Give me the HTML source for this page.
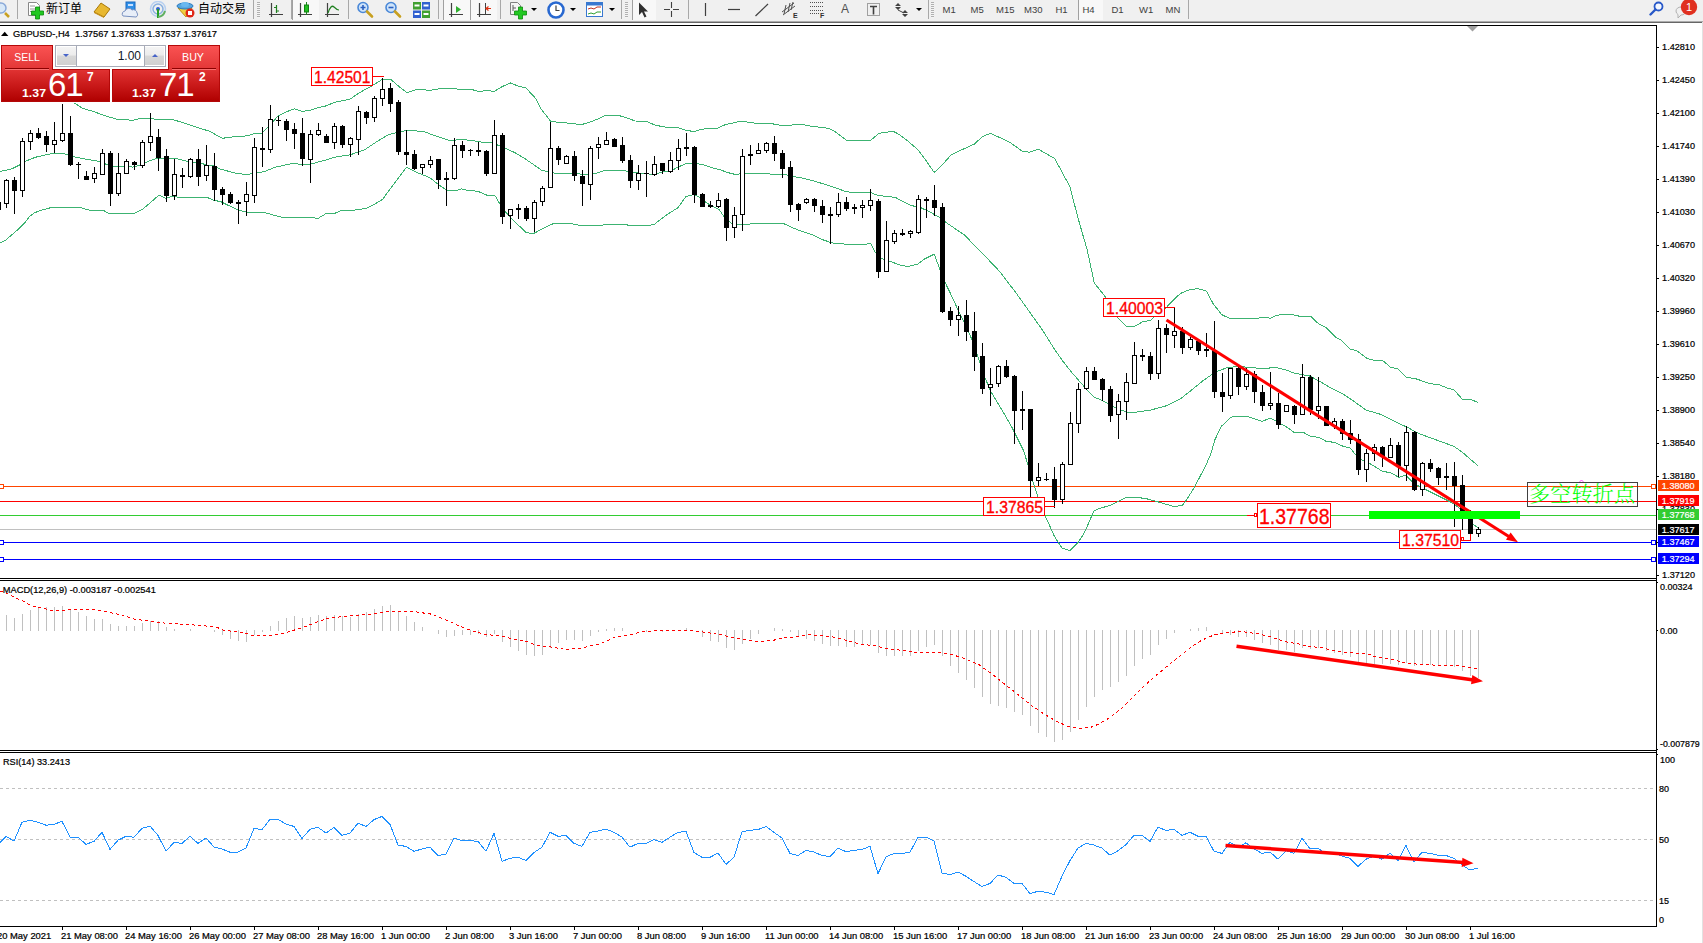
<!DOCTYPE html>
<html><head><meta charset="utf-8"><title>GBPUSD H4</title>
<style>
html,body{margin:0;padding:0;background:#fff}
body{width:1703px;height:943px;position:relative;overflow:hidden;font-family:"Liberation Sans","Noto Sans CJK SC",sans-serif;}
#tb{position:absolute;left:0;top:0;width:1703px;height:21px;background:#f0f0f0}
#tbl1{position:absolute;left:0;top:21px;width:1703px;height:1px;background:#acacac}
#tbl2{position:absolute;left:0;top:22px;width:1702px;height:1px;background:#666}
#edge{position:absolute;left:1702px;top:22px;width:1px;height:921px;background:#e2e2e2}
svg text{font-family:"Liberation Sans","Noto Sans CJK SC",sans-serif;}
svg text.k{stroke:#000;stroke-width:0.22px}
.rb{position:absolute;box-sizing:border-box;border:1px solid #b40808}
.wt{position:absolute;color:#fff;line-height:14px;white-space:nowrap}
</style></head><body>
<div id="tb"><svg style="position:absolute;left:0px;top:0px" width="12" height="20" viewBox="0 0 12 20"><circle cx="1" cy="8" r="5" fill="#d8e8f8" stroke="#88a8d8" stroke-width="1.5"/><line x1="5" y1="13" x2="9" y2="17" stroke="#c8a020" stroke-width="2.5"/></svg>
<div style="position:absolute;left:17px;top:0px;width:1px;height:19px;background:#a8a8a8"></div>
<svg style="position:absolute;left:27px;top:1px" width="17" height="19" viewBox="0 0 17 19"><path d="M1.5 1.5h8l3 3v10h-11z" fill="#fff" stroke="#888"/><path d="M3 5h5M3 8h6M3 10.5h4" stroke="#999" stroke-width="1"/><path d="M9 7h4v4h4v4h-4v4h-4v-4h-4v-4h4z" transform="translate(-0.5,-1)" fill="#22c822" stroke="#0a8a0a" stroke-width="0.8"/></svg>
<div style="position:absolute;left:46px;top:1px;font-size:12px;line-height:16px;color:#000">新订单</div>
<svg style="position:absolute;left:93px;top:2px" width="18" height="16" viewBox="0 0 18 16"><path d="M1 10 L8 1 L17 7 L11 15 Z" fill="#e8b830" stroke="#a87808"/><path d="M1 10 L11 15 L11 16 L1 11z" fill="#c89018"/></svg>
<svg style="position:absolute;left:121px;top:1px" width="18" height="17" viewBox="0 0 18 17"><rect x="5" y="1" width="9" height="10" fill="#3090e8" stroke="#1868c0"/><rect x="7" y="3" width="5" height="2" fill="#c8e0ff"/><path d="M2 15a3 3 0 0 1 2-5a4 4 0 0 1 7-1a3.5 3.5 0 0 1 5 3a2.5 2.5 0 0 1-1 4z" fill="#e8eef8" stroke="#7890c0"/></svg>
<svg style="position:absolute;left:149px;top:1px" width="18" height="17" viewBox="0 0 18 17"><circle cx="9" cy="8" r="7.5" fill="none" stroke="#b8d0f0" stroke-width="1.5"/><circle cx="9" cy="8" r="5" fill="none" stroke="#88b0e0" stroke-width="1.5"/><circle cx="9" cy="8" r="2" fill="#3060d0"/><path d="M9 8v9" stroke="#28a028" stroke-width="2"/><path d="M9 16a8 8 0 0 0 7-6" stroke="#60b060" stroke-width="2" fill="none"/></svg>
<svg style="position:absolute;left:176px;top:1px" width="19" height="17" viewBox="0 0 19 17"><path d="M2 7 L16 7 L10 16 Z" fill="#f0d040" stroke="#c09010"/><ellipse cx="9" cy="5" rx="8" ry="3" fill="#58a8e0" stroke="#2878c0"/><ellipse cx="9" cy="3.5" rx="4" ry="2.5" fill="#68b8f0"/><circle cx="14" cy="12" r="4.5" fill="#e02818"/><rect x="12" y="10" width="4" height="4" fill="#fff"/></svg>
<div style="position:absolute;left:198px;top:1px;font-size:12px;line-height:16px;color:#000">自动交易</div>
<div style="position:absolute;left:253px;top:0px;width:1px;height:19px;background:#a8a8a8"></div>
<div style="position:absolute;left:257px;top:2px;width:3px;height:16px;background:repeating-linear-gradient(#b0b0b0 0 1px,#f4f4f4 1px 2px)"></div>
<svg style="position:absolute;left:268px;top:2px" width="17" height="17" viewBox="0 0 17 17"><path d="M3.5 1v14M1 12.5h14" stroke="#404040" stroke-width="1.2" fill="none"/><path d="M8.5 3v8M6 5.5h2.5M8.5 9h2.5" stroke="#208020" stroke-width="1.2"/></svg>
<div style="position:absolute;left:291px;top:0px;width:1px;height:19px;background:#a8a8a8"></div>
<div style="position:absolute;left:292px;top:0;width:27px;height:20px;background:#f8f8f8;border-left:1px solid #a0a0a0;box-sizing:border-box"></div>
<svg style="position:absolute;left:297px;top:2px" width="17" height="17" viewBox="0 0 17 17"><path d="M3.5 1v14M1 12.5h14" stroke="#404040" stroke-width="1.2" fill="none"/><path d="M9.5 0v13" stroke="#208020"/><rect x="7.5" y="3" width="4" height="7" fill="#20c020" stroke="#108010"/></svg>
<svg style="position:absolute;left:324px;top:2px" width="17" height="17" viewBox="0 0 17 17"><path d="M3.5 1v14M1 12.5h14" stroke="#404040" stroke-width="1.2" fill="none"/><path d="M4 11 Q7 2 10 5 T15 8" stroke="#208020" stroke-width="1.2" fill="none"/></svg>
<div style="position:absolute;left:348px;top:0px;width:1px;height:19px;background:#a8a8a8"></div>
<svg style="position:absolute;left:356px;top:1px" width="18" height="18" viewBox="0 0 18 18"><circle cx="7" cy="6.5" r="5" fill="#cfe4fa" stroke="#4a88d8" stroke-width="1.6"/><path d="M4.5 6.5h5M7 4v5" stroke="#2a60c0" stroke-width="1.6"/><line x1="11" y1="10.5" x2="16" y2="15.5" stroke="#c8a020" stroke-width="2.6" stroke-linecap="round"/></svg>
<svg style="position:absolute;left:384px;top:1px" width="18" height="18" viewBox="0 0 18 18"><circle cx="7" cy="6.5" r="5" fill="#cfe4fa" stroke="#4a88d8" stroke-width="1.6"/><path d="M4.5 6.5h5" stroke="#2a60c0" stroke-width="1.6"/><line x1="11" y1="10.5" x2="16" y2="15.5" stroke="#c8a020" stroke-width="2.6" stroke-linecap="round"/></svg>
<svg style="position:absolute;left:413px;top:2px" width="17" height="16" viewBox="0 0 17 16"><rect x="0" y="0" width="8" height="7.5" fill="#40a030"/><rect x="9" y="0" width="8" height="7.5" fill="#3060d0"/><rect x="0" y="8.5" width="8" height="7.5" fill="#3060d0"/><rect x="9" y="8.5" width="8" height="7.5" fill="#40a030"/><path d="M1.5 3.5h5M10.5 3.5h5M1.5 12h5M10.5 12h5" stroke="#fff" stroke-width="2"/></svg>
<div style="position:absolute;left:438px;top:0px;width:1px;height:19px;background:#a8a8a8"></div>
<div style="position:absolute;left:443px;top:0;width:27px;height:20px;background:#f8f8f8;border-left:1px solid #a0a0a0;box-sizing:border-box"></div>
<svg style="position:absolute;left:448px;top:2px" width="17" height="17" viewBox="0 0 17 17"><path d="M3.5 1v14M1 12.5h14" stroke="#404040" stroke-width="1.2" fill="none"/><path d="M8 4l5 3.5l-5 3.5z" fill="#30b030"/></svg>
<div style="position:absolute;left:470px;top:0;width:27px;height:20px;background:#f8f8f8;border-left:1px solid #a0a0a0;box-sizing:border-box"></div>
<svg style="position:absolute;left:476px;top:2px" width="17" height="17" viewBox="0 0 17 17"><path d="M3.5 1v14M1 12.5h14" stroke="#404040" stroke-width="1.2" fill="none"/><path d="M9.5 1v11" stroke="#404040"/><path d="M15 6.5h-5M12.5 4.5l-2.5 2l2.5 2" stroke="#e03010" stroke-width="1.2" fill="none"/></svg>
<div style="position:absolute;left:500px;top:0px;width:1px;height:19px;background:#a8a8a8"></div>
<svg style="position:absolute;left:509px;top:1px" width="19" height="19" viewBox="0 0 19 19"><path d="M1.5 1.5h7l3 3v9h-10z" fill="#f4f4f4" stroke="#808080"/><path d="M4 4v6M4 7h3" stroke="#606060"/><path d="M9 7h4v4h4v4h-4v4h-4v-4h-4v-4h4z" transform="translate(0.5,-1)" fill="#22c822" stroke="#0a8a0a" stroke-width="0.8"/></svg>
<div style="position:absolute;left:531px;top:8px;width:0;height:0;border-left:3px solid transparent;border-right:3px solid transparent;border-top:3px solid #000"></div>
<svg style="position:absolute;left:547px;top:1px" width="18" height="18" viewBox="0 0 18 18"><circle cx="9" cy="9" r="7.5" fill="#fff" stroke="#2868d0" stroke-width="2.6"/><path d="M9 4.5v5h3.5" stroke="#404040" stroke-width="1.2" fill="none"/></svg>
<div style="position:absolute;left:570px;top:8px;width:0;height:0;border-left:3px solid transparent;border-right:3px solid transparent;border-top:3px solid #000"></div>
<svg style="position:absolute;left:586px;top:2px" width="18" height="15" viewBox="0 0 18 15"><rect x="0.5" y="0.5" width="16" height="14" fill="#fff" stroke="#3878d0"/><rect x="0.5" y="0.5" width="16" height="3" fill="#3878d0"/><path d="M2 7l3-1l3 1l3-2l4 0" stroke="#c03020" fill="none"/><path d="M2 12l3-1l3 1l3-2l4 0" stroke="#30a030" fill="none"/></svg>
<div style="position:absolute;left:609px;top:8px;width:0;height:0;border-left:3px solid transparent;border-right:3px solid transparent;border-top:3px solid #000"></div>
<div style="position:absolute;left:621px;top:0px;width:1px;height:19px;background:#a8a8a8"></div>
<div style="position:absolute;left:625px;top:2px;width:3px;height:16px;background:repeating-linear-gradient(#b0b0b0 0 1px,#f4f4f4 1px 2px)"></div>
<div style="position:absolute;left:632px;top:0;width:24px;height:20px;background:#f8f8f8;border-left:1px solid #a0a0a0;box-sizing:border-box"></div>
<svg style="position:absolute;left:638px;top:2px" width="12" height="16" viewBox="0 0 12 16"><path d="M1 0.5L1 13L4 10L6.5 15.5L8.5 14.5L6 9.5L10 9.5Z" fill="#303030"/></svg>
<svg style="position:absolute;left:663px;top:1px" width="17" height="17" viewBox="0 0 17 17"><path d="M8.5 1v6M8.5 10v6M1 8.5h6M10 8.5h6" stroke="#404040" stroke-width="1.1"/></svg>
<div style="position:absolute;left:688px;top:0px;width:1px;height:19px;background:#a8a8a8"></div>
<svg style="position:absolute;left:700px;top:1px" width="12" height="17" viewBox="0 0 12 17"><path d="M5.5 2v13" stroke="#404040" stroke-width="1.2"/></svg>
<svg style="position:absolute;left:727px;top:1px" width="15" height="17" viewBox="0 0 15 17"><path d="M1 8.5h12" stroke="#404040" stroke-width="1.2"/></svg>
<svg style="position:absolute;left:754px;top:1px" width="16" height="17" viewBox="0 0 16 17"><path d="M1.5 15L14 3" stroke="#404040" stroke-width="1.2"/></svg>
<svg style="position:absolute;left:781px;top:0px" width="18" height="19" viewBox="0 0 18 19"><path d="M1 12L13 3M2 15L14 6M5 5l-2 9M9 3l-2 9M12 2l-2 8" stroke="#505050" stroke-width="1"/><text x="12" y="18" font-size="7" font-weight="bold" fill="#303030">E</text></svg>
<svg style="position:absolute;left:810px;top:0px" width="18" height="19" viewBox="0 0 18 19"><path d="M0 2.5h13M0 6.5h13M0 10.5h13M0 13.5h9" stroke="#505050" stroke-width="1" stroke-dasharray="1,1"/><text x="10" y="18" font-size="7" font-weight="bold" fill="#303030">F</text></svg>
<div style="position:absolute;left:841px;top:3px;font-size:12px;line-height:13px;color:#505050">A</div>
<svg style="position:absolute;left:866px;top:2px" width="16" height="16" viewBox="0 0 16 16"><rect x="1.5" y="1.5" width="12" height="12" fill="none" stroke="#505050" stroke-dasharray="1,1"/><path d="M4 4.5h7M7.5 4.5v8" stroke="#404040" stroke-width="1.6"/></svg>
<svg style="position:absolute;left:894px;top:2px" width="16" height="16" viewBox="0 0 16 16"><path d="M4 1l3 3h-6zM4 8l-3-3h6z" fill="#404040"/><path d="M11 8l3 3h-6zM11 15l-3-3h6z" fill="#404040"/><path d="M4 8l6 3" stroke="#404040"/></svg>
<div style="position:absolute;left:916px;top:8px;width:0;height:0;border-left:3px solid transparent;border-right:3px solid transparent;border-top:3px solid #000"></div>
<div style="position:absolute;left:928px;top:0px;width:1px;height:19px;background:#a8a8a8"></div>
<div style="position:absolute;left:931px;top:2px;width:3px;height:16px;background:repeating-linear-gradient(#b0b0b0 0 1px,#f4f4f4 1px 2px)"></div>
<div style="position:absolute;left:1078px;top:0;width:25px;height:20px;background:#f8f8f8;border-left:1px solid #a0a0a0;box-sizing:border-box"></div>
<div style="position:absolute;left:942.5px;top:4px;font-size:9.5px;line-height:11px;color:#404040">M1</div>
<div style="position:absolute;left:970.5px;top:4px;font-size:9.5px;line-height:11px;color:#404040">M5</div>
<div style="position:absolute;left:996px;top:4px;font-size:9.5px;line-height:11px;color:#404040">M15</div>
<div style="position:absolute;left:1024px;top:4px;font-size:9.5px;line-height:11px;color:#404040">M30</div>
<div style="position:absolute;left:1055.5px;top:4px;font-size:9.5px;line-height:11px;color:#404040">H1</div>
<div style="position:absolute;left:1082.5px;top:4px;font-size:9.5px;line-height:11px;color:#404040">H4</div>
<div style="position:absolute;left:1111.5px;top:4px;font-size:9.5px;line-height:11px;color:#404040">D1</div>
<div style="position:absolute;left:1139px;top:4px;font-size:9.5px;line-height:11px;color:#404040">W1</div>
<div style="position:absolute;left:1165.5px;top:4px;font-size:9.5px;line-height:11px;color:#404040">MN</div>
<div style="position:absolute;left:1188px;top:0px;width:1px;height:19px;background:#a8a8a8"></div>
<svg style="position:absolute;left:1649px;top:1px" width="16" height="16" viewBox="0 0 16 16"><circle cx="9.5" cy="5.5" r="4" fill="#f4f8ff" stroke="#2858c8" stroke-width="1.8"/><line x1="6.5" y1="8.5" x2="1.5" y2="13.5" stroke="#2858c8" stroke-width="2.4" stroke-linecap="round"/></svg>
<svg style="position:absolute;left:1674px;top:0px" width="26" height="20" viewBox="0 0 26 20"><path d="M2 11a5 4 0 0 1 10 0a5 4 0 0 1-5 4l-3 3v-3.5a4 4 0 0 1-2-3.5z" fill="#f0f0f0" stroke="#b0b0b0"/><circle cx="15" cy="7" r="8.2" fill="#e03020"/><text x="15" y="11" font-size="11" fill="#fff" text-anchor="middle">1</text></svg></div><div id="tbl1"></div><div id="tbl2"></div><div id="edge"></div>
<svg style="position:absolute;left:0;top:0" width="1703" height="943" viewBox="0 0 1703 943">
<defs><clipPath id="mainclip"><rect x="0" y="26" width="1656" height="552"/></clipPath></defs>
<g shape-rendering="crispEdges">
<rect x="0" y="486" width="1656" height="1" fill="#ff4500" />
<rect x="0" y="501" width="1656" height="1" fill="#ff0000" />
<rect x="0" y="515" width="1656" height="1" fill="#32cd32" />
<rect x="0" y="529" width="1656" height="1" fill="#c0c0c0" />
<rect x="0" y="542" width="1656" height="1" fill="#0000ff" />
<rect x="0" y="559" width="1656" height="1" fill="#0000ff" />
</g>
<g clip-path="url(#mainclip)">
<polyline points="73.0,102.0 82.4,108.2 94.2,111.8 106.0,116.1 117.7,119.4 133.0,120.2 141.3,118.2 150.7,118.2 158.9,120.0 170.7,119.1 182.5,122.4 200.0,128.3 209.4,131.2 222.4,138.3 234.1,136.7 247.1,135.9 254.1,133.6 262.4,133.0 268.3,126.5 277.7,116.5 284.8,112.4 294.2,108.8 302.4,111.4 310.7,110.0 317.7,107.7 326.0,105.9 334.2,102.4 342.4,100.8 350.7,98.8 358.9,93.0 370.7,86.5 381.3,80.0 390.7,79.4 400.0,87.4 407.1,92.6 412.8,90.7 417.7,89.2 429.4,90.4 444.7,88.0 458.9,89.2 470.6,89.2 478.9,91.5 487.1,90.4 494.2,91.5 502.4,86.5 510.7,82.9 517.7,85.9 526.0,88.0 535.4,98.2 541.3,109.4 550.7,121.2 558.9,122.4 570.7,123.3 581.3,124.7 590.7,121.8 600.0,118.2 605.9,115.1 617.7,115.1 625.9,117.7 635.3,121.0 647.1,121.5 655.3,125.3 665.9,127.1 677.7,127.4 685.9,130.4 694.2,131.5 702.4,129.1 717.7,128.0 726.0,124.4 741.3,121.2 755.4,123.2 769.5,123.2 780.1,125.3 790.7,125.1 800.0,124.1 811.8,126.3 828.3,128.3 835.3,131.8 846.5,140.4 870.6,140.4 878.9,133.3 893.0,131.2 897.7,133.6 905.9,139.4 917.7,149.5 924.8,158.9 934.2,172.4 941.3,165.9 950.7,155.3 962.4,149.5 974.2,144.2 982.5,136.5 990.5,133.3 1000.0,137.7 1010.3,142.6 1022.0,151.0 1029.0,152.2 1038.3,149.2 1054.7,158.5 1069.8,186.5 1078.0,218.0 1087.4,250.7 1094.4,283.4 1100.0,290.0 1105.9,297.8 1110.0,308.0 1117.2,317.1 1126.4,326.5 1134.5,326.5 1142.9,321.7 1150.7,320.3 1154.2,317.1 1160.0,312.0 1166.9,306.9 1170.8,302.7 1176.7,296.7 1181.7,292.8 1188.7,290.0 1197.0,288.7 1201.4,289.4 1206.5,291.2 1213.0,303.5 1221.8,314.7 1229.4,318.3 1257.7,318.3 1263.6,317.3 1270.6,318.3 1276.5,315.3 1284.8,314.1 1290.6,314.4 1300.0,316.3 1310.7,316.3 1318.9,324.1 1326.0,327.7 1335.4,337.1 1341.3,340.0 1350.1,349.1 1356.6,350.6 1367.2,358.6 1374.2,360.3 1382.5,360.3 1390.7,367.4 1397.7,368.8 1406.5,377.4 1415.4,378.6 1429.5,383.5 1438.9,384.7 1447.2,388.0 1454.2,390.0 1462.5,399.4 1470.7,399.4 1477.8,402.4" fill="none" stroke="#3cb371" stroke-width="1" shape-rendering="crispEdges"/>
<polyline points="0.0,171.5 11.8,168.9 20.0,164.7 27.0,160.6 35.3,157.3 44.7,155.1 54.2,153.3 63.6,153.6 75.3,157.1 87.1,159.4 98.9,161.4 106.0,164.2 115.4,166.5 124.8,166.5 133.0,167.1 141.3,164.7 149.5,160.6 157.7,158.3 167.2,158.5 176.6,158.5 183.6,160.6 200.0,163.0 207.0,165.0 214.0,166.0 221.2,169.4 235.3,173.0 247.0,174.7 251.8,173.5 257.7,172.4 263.6,171.8 275.3,167.2 293.0,163.3 302.4,164.7 310.7,164.1 323.6,160.6 335.4,157.1 350.7,154.7 364.8,149.6 376.6,141.8 388.3,134.7 395.4,133.0 400.0,131.8 407.1,130.4 423.5,131.4 435.3,135.9 447.1,139.8 451.8,141.0 458.9,139.4 470.6,140.3 482.4,142.2 491.8,142.6 497.7,145.1 505.9,148.3 515.4,153.0 523.6,157.8 533.0,164.2 541.3,170.0 548.3,171.8 555.4,173.4 564.8,173.8 574.2,173.2 583.6,174.5 593.0,174.1 600.0,172.0 604.7,170.4 623.5,170.4 633.0,172.6 644.7,173.6 654.2,174.5 663.6,171.6 670.6,171.0 677.7,167.3 685.9,163.6 693.0,163.2 702.4,164.5 711.8,167.7 720.1,169.7 727.1,172.4 735.4,174.5 744.8,173.2 764.8,173.2 773.0,174.4 784.8,174.4 794.2,176.8 800.0,177.5 811.8,180.4 823.5,183.9 835.3,187.7 844.7,191.2 851.8,192.4 869.5,192.1 877.7,195.3 887.1,196.5 895.4,197.4 902.4,201.2 910.7,205.3 915.4,206.5 921.2,207.9 929.5,211.8 940.1,217.7 946.0,222.4 955.4,228.9 964.8,235.3 978.9,250.0 988.3,259.5 1000.0,271.8 1003.3,276.4 1015.0,291.5 1026.7,307.9 1038.3,324.2 1042.4,330.0 1048.3,339.4 1054.2,348.8 1062.4,360.6 1070.7,371.2 1078.9,380.6 1087.1,390.0 1094.1,397.1 1102.4,400.6 1114.1,407.1 1127.1,412.4 1135.3,412.2 1150.6,410.1 1165.9,405.9 1181.2,398.3 1193.0,388.9 1202.4,381.2 1210.7,375.3 1217.7,371.2 1227.1,367.7 1236.6,366.5 1249.5,367.3 1263.6,368.9 1274.2,367.3 1280.0,368.5 1287.1,370.2 1294.1,373.2 1309.4,375.9 1318.8,380.8 1329.4,387.1 1342.4,393.6 1353.0,400.6 1365.9,410.0 1380.1,414.2 1397.7,423.0 1407.1,427.1 1418.9,433.6 1431.9,438.3 1444.8,443.0 1454.2,446.5 1462.5,452.4 1470.7,459.5 1477.7,465.6" fill="none" stroke="#3cb371" stroke-width="1" shape-rendering="crispEdges"/>
<polyline points="0.0,243.0 5.9,240.0 11.8,234.8 20.0,227.7 24.7,223.0 29.4,216.5 34.1,213.0 40.0,210.6 51.8,207.4 65.9,207.4 80.0,207.4 85.9,209.4 91.8,210.6 103.6,210.6 109.5,213.6 134.2,213.6 142.4,209.4 150.7,202.4 158.9,195.1 166.0,198.3 174.2,195.9 178.9,197.7 200.0,197.5 207.0,197.4 214.1,200.3 221.2,201.8 229.4,205.9 240.0,210.6 247.1,212.2 263.6,212.2 276.5,215.9 283.6,217.7 314.2,217.7 317.7,218.6 326.0,213.6 334.2,213.6 341.3,210.6 353.0,210.4 366.0,208.3 374.2,204.5 382.5,199.4 390.7,188.3 400.0,176.0 406.5,167.1 415.3,171.8 429.4,177.4 438.8,184.7 447.1,190.6 456.5,190.6 461.2,188.8 467.1,190.4 477.7,191.2 487.1,195.3 494.8,195.3 500.0,204.1 505.9,212.4 513.0,220.0 526.0,232.4 533.0,233.8 541.3,229.5 550.7,224.5 555.4,223.2 569.5,223.2 578.9,225.3 600.0,225.3 611.8,224.1 625.9,224.4 628.3,225.3 649.4,225.3 654.2,224.4 665.9,215.3 677.7,207.9 685.9,196.7 693.0,194.7 698.9,196.8 705.9,202.4 711.8,205.9 718.9,209.4 723.6,215.9 729.5,221.8 733.0,224.4 738.9,224.4 762.4,223.6 783.6,223.6 790.7,226.9 800.0,230.8 811.8,234.5 823.5,240.0 830.6,242.4 835.3,243.6 851.8,244.4 865.9,244.4 870.6,243.2 875.3,252.4 881.2,258.3 889.5,261.2 901.2,265.4 908.3,266.5 917.7,264.2 924.8,258.9 934.2,254.2 939.5,268.3 944.8,281.8 953.0,298.8 958.9,311.8 963.6,321.2 968.3,331.2 971.8,339.4 977.7,355.9 984.8,377.1 990.6,391.2 997.7,403.0 1004.8,414.8 1011.8,427.1 1018.9,441.2 1023.6,450.6 1028.3,465.9 1033.0,482.0 1037.7,496.5 1044.8,515.7 1049.5,525.3 1054.2,535.9 1057.7,541.8 1062.4,548.3 1070.1,550.6 1077.7,543.0 1082.4,535.9 1087.1,526.5 1090.7,518.3 1094.2,510.6 1100.0,508.3 1110.6,505.3 1117.7,501.6 1125.9,497.4 1137.7,497.4 1147.1,498.9 1155.3,501.0 1163.6,503.6 1174.2,506.5 1182.4,505.3 1187.1,498.9 1194.2,487.7 1200.0,476.5 1205.9,465.3 1210.7,454.1 1214.8,440.0 1221.2,426.5 1230.6,417.4 1234.2,416.3 1247.1,416.3 1262.4,421.4 1270.1,418.0 1276.6,421.2 1280.0,423.6 1285.9,426.5 1294.1,432.4 1303.5,432.4 1310.6,436.5 1318.8,437.3 1325.9,441.2 1334.2,442.4 1343.6,446.5 1350.6,448.2 1355.3,454.4 1361.2,459.7 1368.3,462.7 1375.3,466.8 1382.4,471.3 1390.6,472.7 1398.9,477.4 1405.9,475.0 1410.6,480.3 1416.5,485.0 1424.8,489.2 1434.2,493.9 1443.6,498.6 1451.8,502.7 1458.0,507.0 1466.0,516.0 1473.0,524.5 1477.7,527.4" fill="none" stroke="#3cb371" stroke-width="1" shape-rendering="crispEdges"/>
</g>
<g shape-rendering="crispEdges">
<rect x="-2" y="200" width="1" height="12" fill="#000" />
<rect x="-4" y="202" width="5" height="8" fill="#000" />
<rect x="6" y="179" width="1" height="29" fill="#000" />
<rect x="4" y="180" width="5" height="24" fill="#000" />
<rect x="5" y="181" width="3" height="22" fill="#fff" />
<rect x="14" y="177" width="1" height="37" fill="#000" />
<rect x="12" y="180" width="5" height="11" fill="#000" />
<rect x="22" y="138" width="1" height="59" fill="#000" />
<rect x="20" y="141" width="5" height="50" fill="#000" />
<rect x="21" y="142" width="3" height="48" fill="#fff" />
<rect x="30" y="130" width="1" height="20" fill="#000" />
<rect x="28" y="133" width="5" height="9" fill="#000" />
<rect x="29" y="134" width="3" height="7" fill="#fff" />
<rect x="38" y="128" width="1" height="11" fill="#000" />
<rect x="36" y="133" width="5" height="5" fill="#000" />
<rect x="46" y="131" width="1" height="21" fill="#000" />
<rect x="44" y="136" width="5" height="9" fill="#000" />
<rect x="54" y="122" width="1" height="31" fill="#000" />
<rect x="52" y="140" width="5" height="5" fill="#000" />
<rect x="53" y="141" width="3" height="3" fill="#fff" />
<rect x="62" y="104" width="1" height="38" fill="#000" />
<rect x="60" y="133" width="5" height="8" fill="#000" />
<rect x="61" y="134" width="3" height="6" fill="#fff" />
<rect x="70" y="116" width="1" height="50" fill="#000" />
<rect x="68" y="133" width="5" height="32" fill="#000" />
<rect x="78" y="162" width="1" height="17" fill="#000" />
<rect x="76" y="164" width="5" height="1" fill="#000" />
<rect x="86" y="171" width="1" height="9" fill="#000" />
<rect x="84" y="176" width="5" height="4" fill="#000" />
<rect x="94" y="167" width="1" height="16" fill="#000" />
<rect x="92" y="173" width="5" height="6" fill="#000" />
<rect x="93" y="174" width="3" height="4" fill="#fff" />
<rect x="102" y="149" width="1" height="26" fill="#000" />
<rect x="100" y="153" width="5" height="22" fill="#000" />
<rect x="101" y="154" width="3" height="20" fill="#fff" />
<rect x="110" y="151" width="1" height="55" fill="#000" />
<rect x="108" y="153" width="5" height="41" fill="#000" />
<rect x="118" y="153" width="1" height="43" fill="#000" />
<rect x="116" y="173" width="5" height="21" fill="#000" />
<rect x="117" y="174" width="3" height="19" fill="#fff" />
<rect x="126" y="159" width="1" height="15" fill="#000" />
<rect x="124" y="161" width="5" height="13" fill="#000" />
<rect x="125" y="162" width="3" height="11" fill="#fff" />
<rect x="134" y="161" width="1" height="9" fill="#000" />
<rect x="132" y="162" width="5" height="3" fill="#000" />
<rect x="142" y="140" width="1" height="28" fill="#000" />
<rect x="140" y="142" width="5" height="24" fill="#000" />
<rect x="141" y="143" width="3" height="22" fill="#fff" />
<rect x="150" y="113" width="1" height="38" fill="#000" />
<rect x="148" y="136" width="5" height="7" fill="#000" />
<rect x="149" y="137" width="3" height="5" fill="#fff" />
<rect x="158" y="129" width="1" height="42" fill="#000" />
<rect x="156" y="137" width="5" height="21" fill="#000" />
<rect x="166" y="149" width="1" height="53" fill="#000" />
<rect x="164" y="156" width="5" height="40" fill="#000" />
<rect x="174" y="159" width="1" height="41" fill="#000" />
<rect x="172" y="174" width="5" height="22" fill="#000" />
<rect x="173" y="175" width="3" height="20" fill="#fff" />
<rect x="182" y="168" width="1" height="20" fill="#000" />
<rect x="180" y="175" width="5" height="2" fill="#000" />
<rect x="190" y="158" width="1" height="20" fill="#000" />
<rect x="188" y="159" width="5" height="18" fill="#000" />
<rect x="189" y="160" width="3" height="16" fill="#fff" />
<rect x="198" y="149" width="1" height="37" fill="#000" />
<rect x="196" y="159" width="5" height="18" fill="#000" />
<rect x="206" y="145" width="1" height="36" fill="#000" />
<rect x="204" y="165" width="5" height="11" fill="#000" />
<rect x="205" y="166" width="3" height="9" fill="#fff" />
<rect x="214" y="153" width="1" height="48" fill="#000" />
<rect x="212" y="166" width="5" height="24" fill="#000" />
<rect x="222" y="187" width="1" height="18" fill="#000" />
<rect x="220" y="189" width="5" height="6" fill="#000" />
<rect x="230" y="192" width="1" height="12" fill="#000" />
<rect x="228" y="194" width="5" height="9" fill="#000" />
<rect x="238" y="200" width="1" height="24" fill="#000" />
<rect x="236" y="202" width="5" height="2" fill="#000" />
<rect x="246" y="182" width="1" height="34" fill="#000" />
<rect x="244" y="194" width="5" height="8" fill="#000" />
<rect x="245" y="195" width="3" height="6" fill="#fff" />
<rect x="254" y="138" width="1" height="65" fill="#000" />
<rect x="252" y="147" width="5" height="49" fill="#000" />
<rect x="253" y="148" width="3" height="47" fill="#fff" />
<rect x="262" y="127" width="1" height="40" fill="#000" />
<rect x="260" y="148" width="5" height="2" fill="#000" />
<rect x="270" y="105" width="1" height="48" fill="#000" />
<rect x="268" y="119" width="5" height="31" fill="#000" />
<rect x="269" y="120" width="3" height="29" fill="#fff" />
<rect x="278" y="116" width="1" height="10" fill="#000" />
<rect x="276" y="120" width="5" height="1" fill="#000" />
<rect x="286" y="119" width="1" height="22" fill="#000" />
<rect x="284" y="121" width="5" height="9" fill="#000" />
<rect x="294" y="123" width="1" height="26" fill="#000" />
<rect x="292" y="129" width="5" height="5" fill="#000" />
<rect x="302" y="118" width="1" height="48" fill="#000" />
<rect x="300" y="133" width="5" height="26" fill="#000" />
<rect x="310" y="130" width="1" height="53" fill="#000" />
<rect x="308" y="134" width="5" height="26" fill="#000" />
<rect x="309" y="135" width="3" height="24" fill="#fff" />
<rect x="318" y="123" width="1" height="13" fill="#000" />
<rect x="316" y="130" width="5" height="5" fill="#000" />
<rect x="317" y="131" width="3" height="3" fill="#fff" />
<rect x="326" y="134" width="1" height="9" fill="#000" />
<rect x="324" y="136" width="5" height="7" fill="#000" />
<rect x="334" y="123" width="1" height="26" fill="#000" />
<rect x="332" y="126" width="5" height="17" fill="#000" />
<rect x="333" y="127" width="3" height="15" fill="#fff" />
<rect x="342" y="125" width="1" height="23" fill="#000" />
<rect x="340" y="126" width="5" height="19" fill="#000" />
<rect x="350" y="137" width="1" height="20" fill="#000" />
<rect x="348" y="138" width="5" height="7" fill="#000" />
<rect x="349" y="139" width="3" height="5" fill="#fff" />
<rect x="358" y="106" width="1" height="49" fill="#000" />
<rect x="356" y="111" width="5" height="29" fill="#000" />
<rect x="357" y="112" width="3" height="27" fill="#fff" />
<rect x="366" y="111" width="1" height="13" fill="#000" />
<rect x="364" y="112" width="5" height="6" fill="#000" />
<rect x="374" y="96" width="1" height="26" fill="#000" />
<rect x="372" y="98" width="5" height="20" fill="#000" />
<rect x="373" y="99" width="3" height="18" fill="#fff" />
<rect x="382" y="78" width="1" height="28" fill="#000" />
<rect x="380" y="89" width="5" height="10" fill="#000" />
<rect x="381" y="90" width="3" height="8" fill="#fff" />
<rect x="390" y="83" width="1" height="29" fill="#000" />
<rect x="388" y="88" width="5" height="16" fill="#000" />
<rect x="398" y="100" width="1" height="55" fill="#000" />
<rect x="396" y="102" width="5" height="50" fill="#000" />
<rect x="406" y="130" width="1" height="35" fill="#000" />
<rect x="404" y="152" width="5" height="3" fill="#000" />
<rect x="414" y="150" width="1" height="20" fill="#000" />
<rect x="412" y="154" width="5" height="15" fill="#000" />
<rect x="422" y="164" width="1" height="10" fill="#000" />
<rect x="420" y="164" width="5" height="4" fill="#000" />
<rect x="421" y="165" width="3" height="2" fill="#fff" />
<rect x="430" y="156" width="1" height="12" fill="#000" />
<rect x="428" y="160" width="5" height="5" fill="#000" />
<rect x="429" y="161" width="3" height="3" fill="#fff" />
<rect x="438" y="159" width="1" height="30" fill="#000" />
<rect x="436" y="159" width="5" height="21" fill="#000" />
<rect x="446" y="172" width="1" height="34" fill="#000" />
<rect x="444" y="178" width="5" height="2" fill="#000" />
<rect x="454" y="138" width="1" height="42" fill="#000" />
<rect x="452" y="145" width="5" height="34" fill="#000" />
<rect x="453" y="146" width="3" height="32" fill="#fff" />
<rect x="462" y="141" width="1" height="17" fill="#000" />
<rect x="460" y="145" width="5" height="6" fill="#000" />
<rect x="470" y="149" width="1" height="7" fill="#000" />
<rect x="468" y="150" width="5" height="1" fill="#000" />
<rect x="478" y="142" width="1" height="14" fill="#000" />
<rect x="476" y="150" width="5" height="2" fill="#000" />
<rect x="486" y="150" width="1" height="26" fill="#000" />
<rect x="484" y="151" width="5" height="23" fill="#000" />
<rect x="494" y="120" width="1" height="54" fill="#000" />
<rect x="492" y="135" width="5" height="39" fill="#000" />
<rect x="493" y="136" width="3" height="37" fill="#fff" />
<rect x="502" y="133" width="1" height="91" fill="#000" />
<rect x="500" y="135" width="5" height="82" fill="#000" />
<rect x="510" y="209" width="1" height="20" fill="#000" />
<rect x="508" y="209" width="5" height="7" fill="#000" />
<rect x="509" y="210" width="3" height="5" fill="#fff" />
<rect x="518" y="204" width="1" height="15" fill="#000" />
<rect x="516" y="208" width="5" height="2" fill="#000" />
<rect x="526" y="206" width="1" height="15" fill="#000" />
<rect x="524" y="208" width="5" height="11" fill="#000" />
<rect x="534" y="200" width="1" height="32" fill="#000" />
<rect x="532" y="202" width="5" height="17" fill="#000" />
<rect x="533" y="203" width="3" height="15" fill="#fff" />
<rect x="542" y="186" width="1" height="20" fill="#000" />
<rect x="540" y="188" width="5" height="14" fill="#000" />
<rect x="541" y="189" width="3" height="12" fill="#fff" />
<rect x="550" y="122" width="1" height="66" fill="#000" />
<rect x="548" y="148" width="5" height="40" fill="#000" />
<rect x="549" y="149" width="3" height="38" fill="#fff" />
<rect x="558" y="146" width="1" height="19" fill="#000" />
<rect x="556" y="148" width="5" height="12" fill="#000" />
<rect x="566" y="155" width="1" height="9" fill="#000" />
<rect x="564" y="156" width="5" height="8" fill="#000" />
<rect x="565" y="157" width="3" height="6" fill="#fff" />
<rect x="574" y="151" width="1" height="30" fill="#000" />
<rect x="572" y="156" width="5" height="20" fill="#000" />
<rect x="582" y="170" width="1" height="36" fill="#000" />
<rect x="580" y="176" width="5" height="8" fill="#000" />
<rect x="590" y="146" width="1" height="54" fill="#000" />
<rect x="588" y="148" width="5" height="37" fill="#000" />
<rect x="589" y="149" width="3" height="35" fill="#fff" />
<rect x="598" y="137" width="1" height="22" fill="#000" />
<rect x="596" y="144" width="5" height="4" fill="#000" />
<rect x="597" y="145" width="3" height="2" fill="#fff" />
<rect x="606" y="132" width="1" height="13" fill="#000" />
<rect x="604" y="140" width="5" height="5" fill="#000" />
<rect x="605" y="141" width="3" height="3" fill="#fff" />
<rect x="614" y="138" width="1" height="9" fill="#000" />
<rect x="612" y="139" width="5" height="8" fill="#000" />
<rect x="622" y="137" width="1" height="26" fill="#000" />
<rect x="620" y="145" width="5" height="16" fill="#000" />
<rect x="630" y="155" width="1" height="33" fill="#000" />
<rect x="628" y="160" width="5" height="21" fill="#000" />
<rect x="638" y="165" width="1" height="25" fill="#000" />
<rect x="636" y="173" width="5" height="8" fill="#000" />
<rect x="637" y="174" width="3" height="6" fill="#fff" />
<rect x="646" y="161" width="1" height="36" fill="#000" />
<rect x="644" y="173" width="5" height="1" fill="#000" />
<rect x="654" y="156" width="1" height="20" fill="#000" />
<rect x="652" y="164" width="5" height="11" fill="#000" />
<rect x="653" y="165" width="3" height="9" fill="#fff" />
<rect x="662" y="163" width="1" height="11" fill="#000" />
<rect x="660" y="163" width="5" height="8" fill="#000" />
<rect x="670" y="152" width="1" height="21" fill="#000" />
<rect x="668" y="160" width="5" height="12" fill="#000" />
<rect x="669" y="161" width="3" height="10" fill="#fff" />
<rect x="678" y="139" width="1" height="31" fill="#000" />
<rect x="676" y="148" width="5" height="13" fill="#000" />
<rect x="677" y="149" width="3" height="11" fill="#fff" />
<rect x="686" y="133" width="1" height="23" fill="#000" />
<rect x="684" y="147" width="5" height="2" fill="#000" />
<rect x="694" y="146" width="1" height="57" fill="#000" />
<rect x="692" y="147" width="5" height="48" fill="#000" />
<rect x="702" y="193" width="1" height="14" fill="#000" />
<rect x="700" y="194" width="5" height="13" fill="#000" />
<rect x="710" y="201" width="1" height="7" fill="#000" />
<rect x="708" y="205" width="5" height="2" fill="#000" />
<rect x="718" y="193" width="1" height="15" fill="#000" />
<rect x="716" y="200" width="5" height="7" fill="#000" />
<rect x="717" y="201" width="3" height="5" fill="#fff" />
<rect x="726" y="198" width="1" height="43" fill="#000" />
<rect x="724" y="199" width="5" height="29" fill="#000" />
<rect x="734" y="207" width="1" height="31" fill="#000" />
<rect x="732" y="215" width="5" height="13" fill="#000" />
<rect x="733" y="216" width="3" height="11" fill="#fff" />
<rect x="742" y="149" width="1" height="82" fill="#000" />
<rect x="740" y="156" width="5" height="59" fill="#000" />
<rect x="741" y="157" width="3" height="57" fill="#fff" />
<rect x="750" y="145" width="1" height="20" fill="#000" />
<rect x="748" y="154" width="5" height="2" fill="#000" />
<rect x="758" y="143" width="1" height="11" fill="#000" />
<rect x="756" y="150" width="5" height="4" fill="#000" />
<rect x="757" y="151" width="3" height="2" fill="#fff" />
<rect x="766" y="142" width="1" height="11" fill="#000" />
<rect x="764" y="143" width="5" height="8" fill="#000" />
<rect x="765" y="144" width="3" height="6" fill="#fff" />
<rect x="774" y="136" width="1" height="25" fill="#000" />
<rect x="772" y="143" width="5" height="11" fill="#000" />
<rect x="782" y="150" width="1" height="28" fill="#000" />
<rect x="780" y="153" width="5" height="16" fill="#000" />
<rect x="790" y="161" width="1" height="51" fill="#000" />
<rect x="788" y="167" width="5" height="38" fill="#000" />
<rect x="798" y="203" width="1" height="18" fill="#000" />
<rect x="796" y="204" width="5" height="6" fill="#000" />
<rect x="806" y="198" width="1" height="6" fill="#000" />
<rect x="804" y="199" width="5" height="4" fill="#000" />
<rect x="805" y="200" width="3" height="2" fill="#fff" />
<rect x="814" y="198" width="1" height="14" fill="#000" />
<rect x="812" y="199" width="5" height="7" fill="#000" />
<rect x="822" y="200" width="1" height="23" fill="#000" />
<rect x="820" y="206" width="5" height="9" fill="#000" />
<rect x="830" y="207" width="1" height="37" fill="#000" />
<rect x="828" y="214" width="5" height="2" fill="#000" />
<rect x="838" y="193" width="1" height="24" fill="#000" />
<rect x="836" y="202" width="5" height="13" fill="#000" />
<rect x="837" y="203" width="3" height="11" fill="#fff" />
<rect x="846" y="197" width="1" height="14" fill="#000" />
<rect x="844" y="202" width="5" height="7" fill="#000" />
<rect x="854" y="204" width="1" height="10" fill="#000" />
<rect x="852" y="207" width="5" height="2" fill="#000" />
<rect x="862" y="200" width="1" height="18" fill="#000" />
<rect x="860" y="205" width="5" height="3" fill="#000" />
<rect x="861" y="206" width="3" height="1" fill="#fff" />
<rect x="870" y="189" width="1" height="22" fill="#000" />
<rect x="868" y="200" width="5" height="6" fill="#000" />
<rect x="869" y="201" width="3" height="4" fill="#fff" />
<rect x="878" y="199" width="1" height="79" fill="#000" />
<rect x="876" y="201" width="5" height="71" fill="#000" />
<rect x="886" y="221" width="1" height="51" fill="#000" />
<rect x="884" y="240" width="5" height="32" fill="#000" />
<rect x="885" y="241" width="3" height="30" fill="#fff" />
<rect x="894" y="230" width="1" height="14" fill="#000" />
<rect x="892" y="233" width="5" height="9" fill="#000" />
<rect x="893" y="234" width="3" height="7" fill="#fff" />
<rect x="902" y="229" width="1" height="7" fill="#000" />
<rect x="900" y="233" width="5" height="2" fill="#000" />
<rect x="910" y="230" width="1" height="8" fill="#000" />
<rect x="908" y="231" width="5" height="3" fill="#000" />
<rect x="909" y="232" width="3" height="1" fill="#fff" />
<rect x="918" y="195" width="1" height="39" fill="#000" />
<rect x="916" y="199" width="5" height="34" fill="#000" />
<rect x="917" y="200" width="3" height="32" fill="#fff" />
<rect x="926" y="197" width="1" height="21" fill="#000" />
<rect x="924" y="199" width="5" height="2" fill="#000" />
<rect x="934" y="185" width="1" height="31" fill="#000" />
<rect x="932" y="200" width="5" height="8" fill="#000" />
<rect x="942" y="203" width="1" height="110" fill="#000" />
<rect x="940" y="207" width="5" height="105" fill="#000" />
<rect x="950" y="307" width="1" height="19" fill="#000" />
<rect x="948" y="311" width="5" height="9" fill="#000" />
<rect x="958" y="306" width="1" height="30" fill="#000" />
<rect x="956" y="315" width="5" height="5" fill="#000" />
<rect x="957" y="316" width="3" height="3" fill="#fff" />
<rect x="966" y="300" width="1" height="41" fill="#000" />
<rect x="964" y="315" width="5" height="17" fill="#000" />
<rect x="974" y="312" width="1" height="59" fill="#000" />
<rect x="972" y="331" width="5" height="26" fill="#000" />
<rect x="982" y="343" width="1" height="51" fill="#000" />
<rect x="980" y="356" width="5" height="33" fill="#000" />
<rect x="990" y="368" width="1" height="38" fill="#000" />
<rect x="988" y="384" width="5" height="4" fill="#000" />
<rect x="989" y="385" width="3" height="2" fill="#fff" />
<rect x="998" y="365" width="1" height="22" fill="#000" />
<rect x="996" y="366" width="5" height="18" fill="#000" />
<rect x="997" y="367" width="3" height="16" fill="#fff" />
<rect x="1006" y="360" width="1" height="18" fill="#000" />
<rect x="1004" y="366" width="5" height="11" fill="#000" />
<rect x="1014" y="375" width="1" height="69" fill="#000" />
<rect x="1012" y="376" width="5" height="35" fill="#000" />
<rect x="1022" y="391" width="1" height="39" fill="#000" />
<rect x="1020" y="409" width="5" height="2" fill="#000" />
<rect x="1030" y="409" width="1" height="91" fill="#000" />
<rect x="1028" y="409" width="5" height="72" fill="#000" />
<rect x="1038" y="463" width="1" height="23" fill="#000" />
<rect x="1036" y="477" width="5" height="4" fill="#000" />
<rect x="1037" y="478" width="3" height="2" fill="#fff" />
<rect x="1046" y="473" width="1" height="8" fill="#000" />
<rect x="1044" y="479" width="5" height="1" fill="#000" />
<rect x="1054" y="467" width="1" height="41" fill="#000" />
<rect x="1052" y="479" width="5" height="21" fill="#000" />
<rect x="1062" y="462" width="1" height="42" fill="#000" />
<rect x="1060" y="464" width="5" height="36" fill="#000" />
<rect x="1061" y="465" width="3" height="34" fill="#fff" />
<rect x="1070" y="412" width="1" height="53" fill="#000" />
<rect x="1068" y="423" width="5" height="42" fill="#000" />
<rect x="1069" y="424" width="3" height="40" fill="#fff" />
<rect x="1078" y="383" width="1" height="50" fill="#000" />
<rect x="1076" y="389" width="5" height="35" fill="#000" />
<rect x="1077" y="390" width="3" height="33" fill="#fff" />
<rect x="1086" y="367" width="1" height="23" fill="#000" />
<rect x="1084" y="371" width="5" height="18" fill="#000" />
<rect x="1085" y="372" width="3" height="16" fill="#fff" />
<rect x="1094" y="367" width="1" height="13" fill="#000" />
<rect x="1092" y="371" width="5" height="9" fill="#000" />
<rect x="1102" y="378" width="1" height="23" fill="#000" />
<rect x="1100" y="379" width="5" height="11" fill="#000" />
<rect x="1110" y="386" width="1" height="36" fill="#000" />
<rect x="1108" y="389" width="5" height="27" fill="#000" />
<rect x="1118" y="394" width="1" height="45" fill="#000" />
<rect x="1116" y="401" width="5" height="14" fill="#000" />
<rect x="1117" y="402" width="3" height="12" fill="#fff" />
<rect x="1126" y="373" width="1" height="47" fill="#000" />
<rect x="1124" y="382" width="5" height="20" fill="#000" />
<rect x="1125" y="383" width="3" height="18" fill="#fff" />
<rect x="1134" y="342" width="1" height="42" fill="#000" />
<rect x="1132" y="355" width="5" height="29" fill="#000" />
<rect x="1133" y="356" width="3" height="27" fill="#fff" />
<rect x="1142" y="349" width="1" height="12" fill="#000" />
<rect x="1140" y="355" width="5" height="2" fill="#000" />
<rect x="1150" y="352" width="1" height="28" fill="#000" />
<rect x="1148" y="356" width="5" height="18" fill="#000" />
<rect x="1158" y="320" width="1" height="59" fill="#000" />
<rect x="1156" y="328" width="5" height="46" fill="#000" />
<rect x="1157" y="329" width="3" height="44" fill="#fff" />
<rect x="1166" y="324" width="1" height="29" fill="#000" />
<rect x="1164" y="328" width="5" height="7" fill="#000" />
<rect x="1174" y="307" width="1" height="41" fill="#000" />
<rect x="1172" y="331" width="5" height="5" fill="#000" />
<rect x="1173" y="332" width="3" height="3" fill="#fff" />
<rect x="1182" y="327" width="1" height="27" fill="#000" />
<rect x="1180" y="331" width="5" height="17" fill="#000" />
<rect x="1190" y="337" width="1" height="13" fill="#000" />
<rect x="1188" y="339" width="5" height="9" fill="#000" />
<rect x="1189" y="340" width="3" height="7" fill="#fff" />
<rect x="1198" y="340" width="1" height="15" fill="#000" />
<rect x="1196" y="341" width="5" height="10" fill="#000" />
<rect x="1206" y="333" width="1" height="24" fill="#000" />
<rect x="1204" y="349" width="5" height="2" fill="#000" />
<rect x="1214" y="321" width="1" height="77" fill="#000" />
<rect x="1212" y="350" width="5" height="42" fill="#000" />
<rect x="1222" y="373" width="1" height="39" fill="#000" />
<rect x="1220" y="392" width="5" height="5" fill="#000" />
<rect x="1230" y="368" width="1" height="31" fill="#000" />
<rect x="1228" y="368" width="5" height="28" fill="#000" />
<rect x="1229" y="369" width="3" height="26" fill="#fff" />
<rect x="1238" y="366" width="1" height="29" fill="#000" />
<rect x="1236" y="368" width="5" height="19" fill="#000" />
<rect x="1246" y="368" width="1" height="22" fill="#000" />
<rect x="1244" y="374" width="5" height="13" fill="#000" />
<rect x="1245" y="375" width="3" height="11" fill="#fff" />
<rect x="1254" y="371" width="1" height="32" fill="#000" />
<rect x="1252" y="374" width="5" height="18" fill="#000" />
<rect x="1262" y="385" width="1" height="26" fill="#000" />
<rect x="1260" y="392" width="5" height="14" fill="#000" />
<rect x="1270" y="372" width="1" height="38" fill="#000" />
<rect x="1268" y="403" width="5" height="3" fill="#000" />
<rect x="1269" y="404" width="3" height="1" fill="#fff" />
<rect x="1278" y="393" width="1" height="36" fill="#000" />
<rect x="1276" y="403" width="5" height="22" fill="#000" />
<rect x="1286" y="405" width="1" height="7" fill="#000" />
<rect x="1284" y="405" width="5" height="7" fill="#000" />
<rect x="1285" y="406" width="3" height="5" fill="#fff" />
<rect x="1294" y="405" width="1" height="19" fill="#000" />
<rect x="1292" y="406" width="5" height="9" fill="#000" />
<rect x="1302" y="364" width="1" height="51" fill="#000" />
<rect x="1300" y="377" width="5" height="38" fill="#000" />
<rect x="1301" y="378" width="3" height="36" fill="#fff" />
<rect x="1310" y="375" width="1" height="40" fill="#000" />
<rect x="1308" y="377" width="5" height="33" fill="#000" />
<rect x="1318" y="377" width="1" height="42" fill="#000" />
<rect x="1316" y="406" width="5" height="5" fill="#000" />
<rect x="1317" y="407" width="3" height="3" fill="#fff" />
<rect x="1326" y="406" width="1" height="20" fill="#000" />
<rect x="1324" y="406" width="5" height="20" fill="#000" />
<rect x="1334" y="418" width="1" height="11" fill="#000" />
<rect x="1332" y="421" width="5" height="5" fill="#000" />
<rect x="1333" y="422" width="3" height="3" fill="#fff" />
<rect x="1342" y="419" width="1" height="21" fill="#000" />
<rect x="1340" y="421" width="5" height="13" fill="#000" />
<rect x="1350" y="420" width="1" height="24" fill="#000" />
<rect x="1348" y="433" width="5" height="7" fill="#000" />
<rect x="1358" y="434" width="1" height="41" fill="#000" />
<rect x="1356" y="439" width="5" height="31" fill="#000" />
<rect x="1366" y="449" width="1" height="33" fill="#000" />
<rect x="1364" y="453" width="5" height="17" fill="#000" />
<rect x="1365" y="454" width="3" height="15" fill="#fff" />
<rect x="1374" y="444" width="1" height="17" fill="#000" />
<rect x="1372" y="447" width="5" height="7" fill="#000" />
<rect x="1373" y="448" width="3" height="5" fill="#fff" />
<rect x="1382" y="446" width="1" height="21" fill="#000" />
<rect x="1380" y="447" width="5" height="10" fill="#000" />
<rect x="1390" y="438" width="1" height="20" fill="#000" />
<rect x="1388" y="445" width="5" height="13" fill="#000" />
<rect x="1389" y="446" width="3" height="11" fill="#fff" />
<rect x="1398" y="442" width="1" height="35" fill="#000" />
<rect x="1396" y="445" width="5" height="21" fill="#000" />
<rect x="1406" y="426" width="1" height="55" fill="#000" />
<rect x="1404" y="432" width="5" height="34" fill="#000" />
<rect x="1405" y="433" width="3" height="32" fill="#fff" />
<rect x="1414" y="431" width="1" height="60" fill="#000" />
<rect x="1412" y="432" width="5" height="58" fill="#000" />
<rect x="1422" y="462" width="1" height="34" fill="#000" />
<rect x="1420" y="463" width="5" height="27" fill="#000" />
<rect x="1421" y="464" width="3" height="25" fill="#fff" />
<rect x="1430" y="459" width="1" height="13" fill="#000" />
<rect x="1428" y="463" width="5" height="6" fill="#000" />
<rect x="1438" y="467" width="1" height="18" fill="#000" />
<rect x="1436" y="468" width="5" height="10" fill="#000" />
<rect x="1446" y="463" width="1" height="27" fill="#000" />
<rect x="1444" y="476" width="5" height="2" fill="#000" />
<rect x="1454" y="462" width="1" height="65" fill="#000" />
<rect x="1452" y="476" width="5" height="10" fill="#000" />
<rect x="1462" y="475" width="1" height="55" fill="#000" />
<rect x="1460" y="485" width="5" height="26" fill="#000" />
<rect x="1470" y="510" width="1" height="29" fill="#000" />
<rect x="1468" y="511" width="5" height="23" fill="#000" />
<rect x="1478" y="527" width="1" height="10" fill="#000" />
<rect x="1476" y="529" width="5" height="5" fill="#000" />
<rect x="1477" y="530" width="3" height="3" fill="#fff" />
</g>
<line x1="1166.5" y1="320" x2="1510.0" y2="537.2" stroke="#ff0000" stroke-width="3.1"/>
<polygon points="1518.0,542.3 1506.0,539.8 1510.6,532.5" fill="#ff0000"/>
<g shape-rendering="crispEdges">
<rect x="1369" y="511" width="151" height="8" fill="#00ff00" />
</g>
<g shape-rendering="crispEdges">
<rect x="373" y="76" width="11" height="1" fill="#ff0000" />
<rect x="1165" y="307" width="10" height="1" fill="#ff0000" />
<rect x="1045" y="506" width="10" height="1" fill="#ff0000" />
<rect x="1247" y="515" width="8" height="1" fill="#ff0000" />
<rect x="1254.5" y="513.5" width="2" height="3" fill="#fff" stroke="#ff0000"/>
<rect x="1461.5" y="537.5" width="2" height="3" fill="#fff" stroke="#ff0000"/>
<rect x="1464" y="540" width="7" height="1" fill="#ff0000" />
<rect x="1470" y="534" width="1" height="7" fill="#ff0000" />
</g>
<g shape-rendering="crispEdges">
<rect x="311.5" y="67.5" width="61" height="18" fill="#fff" stroke="#ff0000" stroke-width="1"/>
</g>
<text x="314" y="83" font-size="16" fill="#ff0000" stroke="#ff0000" stroke-width="0.3" textLength="56.5" lengthAdjust="spacingAndGlyphs">1.42501</text>
<g shape-rendering="crispEdges">
<rect x="1103.5" y="298.5" width="61" height="18" fill="#fff" stroke="#ff0000" stroke-width="1"/>
</g>
<text x="1106" y="314" font-size="16" fill="#ff0000" stroke="#ff0000" stroke-width="0.3" textLength="57" lengthAdjust="spacingAndGlyphs">1.40003</text>
<g shape-rendering="crispEdges">
<rect x="983.5" y="497.5" width="61" height="18" fill="#fff" stroke="#ff0000" stroke-width="1"/>
</g>
<text x="986" y="513" font-size="16" fill="#ff0000" stroke="#ff0000" stroke-width="0.3" textLength="57" lengthAdjust="spacingAndGlyphs">1.37865</text>
<g shape-rendering="crispEdges">
<rect x="1399.5" y="530.5" width="61" height="18" fill="#fff" stroke="#ff0000" stroke-width="1"/>
</g>
<text x="1402" y="546" font-size="16" fill="#ff0000" stroke="#ff0000" stroke-width="0.3" textLength="57" lengthAdjust="spacingAndGlyphs">1.37510</text>
<g shape-rendering="crispEdges">
<rect x="1257.5" y="503.5" width="73" height="24" fill="#fff" stroke="#ff0000" stroke-width="1"/>
</g>
<text x="1259" y="523.7" font-size="21.5" fill="#ff0000" stroke="#ff0000" stroke-width="0.3" textLength="70.5" lengthAdjust="spacingAndGlyphs">1.37768</text>
<g shape-rendering="crispEdges">
<rect x="1527.5" y="482.5" width="110" height="24" fill="none" stroke="#404040"/>
</g>
<text x="1529" y="500.8" font-size="21" fill="#00ff00" style="font-family:'Liberation Serif','Noto Serif CJK SC',serif" font-weight="300" textLength="106" lengthAdjust="spacing">多空转折点</text>
<polyline points="1579.5,482 1581.5,480 1583.5,482" fill="none" stroke="#ff40ff" stroke-width="1"/>
<g shape-rendering="crispEdges">
<rect x="1651.5" y="484.5" width="4" height="4" fill="#fff" stroke="#ff4500"/>
<rect x="-0.5" y="484.5" width="4" height="4" fill="#fff" stroke="#ff4500"/>
<rect x="1651.5" y="540.5" width="4" height="4" fill="#fff" stroke="#0000ff"/>
<rect x="-0.5" y="540.5" width="4" height="4" fill="#fff" stroke="#0000ff"/>
<rect x="1651.5" y="557.5" width="4" height="4" fill="#fff" stroke="#0000ff"/>
<rect x="-0.5" y="557.5" width="4" height="4" fill="#fff" stroke="#0000ff"/>
</g>
<g shape-rendering="crispEdges">
<rect x="6" y="615" width="1" height="16" fill="#c0c0c0" />
<rect x="14" y="618" width="1" height="13" fill="#c0c0c0" />
<rect x="22" y="614" width="1" height="17" fill="#c0c0c0" />
<rect x="30" y="610" width="1" height="21" fill="#c0c0c0" />
<rect x="38" y="608" width="1" height="23" fill="#c0c0c0" />
<rect x="46" y="607" width="1" height="24" fill="#c0c0c0" />
<rect x="54" y="607" width="1" height="24" fill="#c0c0c0" />
<rect x="62" y="606" width="1" height="25" fill="#c0c0c0" />
<rect x="70" y="609" width="1" height="22" fill="#c0c0c0" />
<rect x="78" y="612" width="1" height="19" fill="#c0c0c0" />
<rect x="86" y="616" width="1" height="15" fill="#c0c0c0" />
<rect x="94" y="619" width="1" height="12" fill="#c0c0c0" />
<rect x="102" y="619" width="1" height="12" fill="#c0c0c0" />
<rect x="110" y="624" width="1" height="7" fill="#c0c0c0" />
<rect x="118" y="626" width="1" height="5" fill="#c0c0c0" />
<rect x="126" y="626" width="1" height="5" fill="#c0c0c0" />
<rect x="134" y="626" width="1" height="5" fill="#c0c0c0" />
<rect x="142" y="623" width="1" height="8" fill="#c0c0c0" />
<rect x="150" y="621" width="1" height="10" fill="#c0c0c0" />
<rect x="158" y="621" width="1" height="10" fill="#c0c0c0" />
<rect x="166" y="627" width="1" height="4" fill="#c0c0c0" />
<rect x="174" y="629" width="1" height="2" fill="#c0c0c0" />
<rect x="190" y="629" width="1" height="2" fill="#c0c0c0" />
<rect x="214" y="630" width="1" height="2" fill="#c0c0c0" />
<rect x="222" y="630" width="1" height="5" fill="#c0c0c0" />
<rect x="230" y="630" width="1" height="9" fill="#c0c0c0" />
<rect x="238" y="630" width="1" height="11" fill="#c0c0c0" />
<rect x="246" y="630" width="1" height="12" fill="#c0c0c0" />
<rect x="254" y="630" width="1" height="5" fill="#c0c0c0" />
<rect x="262" y="630" width="1" height="2" fill="#c0c0c0" />
<rect x="270" y="626" width="1" height="5" fill="#c0c0c0" />
<rect x="278" y="621" width="1" height="10" fill="#c0c0c0" />
<rect x="286" y="618" width="1" height="13" fill="#c0c0c0" />
<rect x="294" y="616" width="1" height="15" fill="#c0c0c0" />
<rect x="302" y="618" width="1" height="13" fill="#c0c0c0" />
<rect x="310" y="617" width="1" height="14" fill="#c0c0c0" />
<rect x="318" y="615" width="1" height="16" fill="#c0c0c0" />
<rect x="326" y="616" width="1" height="15" fill="#c0c0c0" />
<rect x="334" y="615" width="1" height="16" fill="#c0c0c0" />
<rect x="342" y="616" width="1" height="15" fill="#c0c0c0" />
<rect x="350" y="617" width="1" height="14" fill="#c0c0c0" />
<rect x="358" y="614" width="1" height="17" fill="#c0c0c0" />
<rect x="366" y="612" width="1" height="19" fill="#c0c0c0" />
<rect x="374" y="609" width="1" height="22" fill="#c0c0c0" />
<rect x="382" y="606" width="1" height="25" fill="#c0c0c0" />
<rect x="390" y="605" width="1" height="26" fill="#c0c0c0" />
<rect x="398" y="612" width="1" height="19" fill="#c0c0c0" />
<rect x="406" y="616" width="1" height="15" fill="#c0c0c0" />
<rect x="414" y="622" width="1" height="9" fill="#c0c0c0" />
<rect x="422" y="627" width="1" height="4" fill="#c0c0c0" />
<rect x="438" y="630" width="1" height="4" fill="#c0c0c0" />
<rect x="446" y="630" width="1" height="7" fill="#c0c0c0" />
<rect x="454" y="630" width="1" height="6" fill="#c0c0c0" />
<rect x="462" y="630" width="1" height="5" fill="#c0c0c0" />
<rect x="470" y="630" width="1" height="5" fill="#c0c0c0" />
<rect x="478" y="630" width="1" height="4" fill="#c0c0c0" />
<rect x="486" y="630" width="1" height="7" fill="#c0c0c0" />
<rect x="494" y="630" width="1" height="4" fill="#c0c0c0" />
<rect x="502" y="630" width="1" height="12" fill="#c0c0c0" />
<rect x="510" y="630" width="1" height="17" fill="#c0c0c0" />
<rect x="518" y="630" width="1" height="21" fill="#c0c0c0" />
<rect x="526" y="630" width="1" height="25" fill="#c0c0c0" />
<rect x="534" y="630" width="1" height="26" fill="#c0c0c0" />
<rect x="542" y="630" width="1" height="25" fill="#c0c0c0" />
<rect x="550" y="630" width="1" height="18" fill="#c0c0c0" />
<rect x="558" y="630" width="1" height="13" fill="#c0c0c0" />
<rect x="566" y="630" width="1" height="10" fill="#c0c0c0" />
<rect x="574" y="630" width="1" height="10" fill="#c0c0c0" />
<rect x="582" y="630" width="1" height="11" fill="#c0c0c0" />
<rect x="590" y="630" width="1" height="6" fill="#c0c0c0" />
<rect x="598" y="630" width="1" height="2" fill="#c0c0c0" />
<rect x="606" y="629" width="1" height="2" fill="#c0c0c0" />
<rect x="614" y="628" width="1" height="3" fill="#c0c0c0" />
<rect x="622" y="628" width="1" height="3" fill="#c0c0c0" />
<rect x="646" y="630" width="1" height="2" fill="#c0c0c0" />
<rect x="662" y="630" width="1" height="2" fill="#c0c0c0" />
<rect x="686" y="628" width="1" height="3" fill="#c0c0c0" />
<rect x="702" y="630" width="1" height="7" fill="#c0c0c0" />
<rect x="710" y="630" width="1" height="11" fill="#c0c0c0" />
<rect x="718" y="630" width="1" height="12" fill="#c0c0c0" />
<rect x="726" y="630" width="1" height="18" fill="#c0c0c0" />
<rect x="734" y="630" width="1" height="20" fill="#c0c0c0" />
<rect x="742" y="630" width="1" height="14" fill="#c0c0c0" />
<rect x="750" y="630" width="1" height="9" fill="#c0c0c0" />
<rect x="758" y="630" width="1" height="4" fill="#c0c0c0" />
<rect x="774" y="628" width="1" height="3" fill="#c0c0c0" />
<rect x="782" y="629" width="1" height="2" fill="#c0c0c0" />
<rect x="790" y="630" width="1" height="2" fill="#c0c0c0" />
<rect x="798" y="630" width="1" height="6" fill="#c0c0c0" />
<rect x="806" y="630" width="1" height="9" fill="#c0c0c0" />
<rect x="814" y="630" width="1" height="11" fill="#c0c0c0" />
<rect x="822" y="630" width="1" height="14" fill="#c0c0c0" />
<rect x="830" y="630" width="1" height="16" fill="#c0c0c0" />
<rect x="838" y="630" width="1" height="16" fill="#c0c0c0" />
<rect x="846" y="630" width="1" height="17" fill="#c0c0c0" />
<rect x="854" y="630" width="1" height="17" fill="#c0c0c0" />
<rect x="862" y="630" width="1" height="15" fill="#c0c0c0" />
<rect x="870" y="630" width="1" height="15" fill="#c0c0c0" />
<rect x="878" y="630" width="1" height="23" fill="#c0c0c0" />
<rect x="886" y="630" width="1" height="26" fill="#c0c0c0" />
<rect x="894" y="630" width="1" height="26" fill="#c0c0c0" />
<rect x="902" y="630" width="1" height="26" fill="#c0c0c0" />
<rect x="910" y="630" width="1" height="26" fill="#c0c0c0" />
<rect x="918" y="630" width="1" height="21" fill="#c0c0c0" />
<rect x="926" y="630" width="1" height="17" fill="#c0c0c0" />
<rect x="934" y="630" width="1" height="15" fill="#c0c0c0" />
<rect x="942" y="630" width="1" height="26" fill="#c0c0c0" />
<rect x="950" y="630" width="1" height="36" fill="#c0c0c0" />
<rect x="958" y="630" width="1" height="43" fill="#c0c0c0" />
<rect x="966" y="630" width="1" height="50" fill="#c0c0c0" />
<rect x="974" y="630" width="1" height="58" fill="#c0c0c0" />
<rect x="982" y="630" width="1" height="67" fill="#c0c0c0" />
<rect x="990" y="630" width="1" height="74" fill="#c0c0c0" />
<rect x="998" y="630" width="1" height="76" fill="#c0c0c0" />
<rect x="1006" y="630" width="1" height="78" fill="#c0c0c0" />
<rect x="1014" y="630" width="1" height="82" fill="#c0c0c0" />
<rect x="1022" y="630" width="1" height="85" fill="#c0c0c0" />
<rect x="1030" y="630" width="1" height="96" fill="#c0c0c0" />
<rect x="1038" y="630" width="1" height="103" fill="#c0c0c0" />
<rect x="1046" y="630" width="1" height="107" fill="#c0c0c0" />
<rect x="1054" y="630" width="1" height="112" fill="#c0c0c0" />
<rect x="1062" y="630" width="1" height="110" fill="#c0c0c0" />
<rect x="1070" y="630" width="1" height="102" fill="#c0c0c0" />
<rect x="1078" y="630" width="1" height="90" fill="#c0c0c0" />
<rect x="1086" y="630" width="1" height="77" fill="#c0c0c0" />
<rect x="1094" y="630" width="1" height="67" fill="#c0c0c0" />
<rect x="1102" y="630" width="1" height="60" fill="#c0c0c0" />
<rect x="1110" y="630" width="1" height="57" fill="#c0c0c0" />
<rect x="1118" y="630" width="1" height="52" fill="#c0c0c0" />
<rect x="1126" y="630" width="1" height="46" fill="#c0c0c0" />
<rect x="1134" y="630" width="1" height="36" fill="#c0c0c0" />
<rect x="1142" y="630" width="1" height="29" fill="#c0c0c0" />
<rect x="1150" y="630" width="1" height="25" fill="#c0c0c0" />
<rect x="1158" y="630" width="1" height="15" fill="#c0c0c0" />
<rect x="1166" y="630" width="1" height="9" fill="#c0c0c0" />
<rect x="1174" y="630" width="1" height="3" fill="#c0c0c0" />
<rect x="1190" y="629" width="1" height="2" fill="#c0c0c0" />
<rect x="1198" y="628" width="1" height="3" fill="#c0c0c0" />
<rect x="1206" y="627" width="1" height="4" fill="#c0c0c0" />
<rect x="1222" y="630" width="1" height="4" fill="#c0c0c0" />
<rect x="1230" y="630" width="1" height="5" fill="#c0c0c0" />
<rect x="1238" y="630" width="1" height="7" fill="#c0c0c0" />
<rect x="1246" y="630" width="1" height="7" fill="#c0c0c0" />
<rect x="1254" y="630" width="1" height="10" fill="#c0c0c0" />
<rect x="1262" y="630" width="1" height="13" fill="#c0c0c0" />
<rect x="1270" y="630" width="1" height="15" fill="#c0c0c0" />
<rect x="1278" y="630" width="1" height="20" fill="#c0c0c0" />
<rect x="1286" y="630" width="1" height="20" fill="#c0c0c0" />
<rect x="1294" y="630" width="1" height="22" fill="#c0c0c0" />
<rect x="1302" y="630" width="1" height="18" fill="#c0c0c0" />
<rect x="1310" y="630" width="1" height="19" fill="#c0c0c0" />
<rect x="1318" y="630" width="1" height="18" fill="#c0c0c0" />
<rect x="1326" y="630" width="1" height="21" fill="#c0c0c0" />
<rect x="1334" y="630" width="1" height="23" fill="#c0c0c0" />
<rect x="1342" y="630" width="1" height="25" fill="#c0c0c0" />
<rect x="1350" y="630" width="1" height="27" fill="#c0c0c0" />
<rect x="1358" y="630" width="1" height="32" fill="#c0c0c0" />
<rect x="1366" y="630" width="1" height="34" fill="#c0c0c0" />
<rect x="1374" y="630" width="1" height="34" fill="#c0c0c0" />
<rect x="1382" y="630" width="1" height="34" fill="#c0c0c0" />
<rect x="1390" y="630" width="1" height="34" fill="#c0c0c0" />
<rect x="1398" y="630" width="1" height="35" fill="#c0c0c0" />
<rect x="1406" y="630" width="1" height="33" fill="#c0c0c0" />
<rect x="1414" y="630" width="1" height="36" fill="#c0c0c0" />
<rect x="1422" y="630" width="1" height="35" fill="#c0c0c0" />
<rect x="1430" y="630" width="1" height="35" fill="#c0c0c0" />
<rect x="1438" y="630" width="1" height="36" fill="#c0c0c0" />
<rect x="1446" y="630" width="1" height="36" fill="#c0c0c0" />
<rect x="1454" y="630" width="1" height="37" fill="#c0c0c0" />
<rect x="1462" y="630" width="1" height="41" fill="#c0c0c0" />
<rect x="1470" y="630" width="1" height="46" fill="#c0c0c0" />
<rect x="1478" y="630" width="1" height="48" fill="#c0c0c0" />
</g>
<polyline points="0,590.9 5.3,592.7 12.3,596.2 22.9,601.1 30,605.2 40.5,607.8 51,610.3 65.2,610.3 70.5,609.4 91.6,609.4 105.7,611.7 123.3,615.2 133.9,619.1 151.5,621.4 165.6,623.2 200.8,625.4 216.7,627.2 223.7,630.2 244.8,632.8 251.9,635.5 269.5,635.5 285.4,632.8 292.4,630.6 300,628.4 305.3,626.7 317.6,621.7 328.2,618.4 342.3,616.5 358.1,615.2 374,614 388.1,611.7 414.5,611.7 430.4,614 440.9,617.9 451.5,622.3 462.1,627.2 474.4,631.4 485,634.3 502.6,636.4 511.4,638.7 527.2,641.7 536,645.2 550.1,646.9 564.2,649.2 580.1,648.7 590.7,645.7 600,643.8 607,640.8 615.9,636.7 633.5,634.3 638.8,632.3 658.1,630.7 689.8,630.7 705.7,632.3 719.8,634.6 733.9,637.8 749.7,640.4 758.5,641.7 772.6,640.4 785,637.8 799.1,636.4 807.9,634.6 822,635.5 834.3,637.2 846.6,640.4 860.7,644.3 874.8,645.7 885.4,648.3 900,650.2 910.9,651.7 918.2,652.6 941.9,653 952.9,654.8 965.7,659 978.4,664.3 989.4,672.1 1002.1,682.1 1014.9,692.2 1031.3,705.3 1044.1,714 1055,720.4 1067.8,726.5 1078.7,728.3 1089.7,727.7 1098.8,724.1 1109.7,717.7 1120.7,709.1 1133.5,696.7 1146.2,684 1159,673 1169.9,663.9 1182.7,653.9 1191.8,646.6 1200,641.3 1207.3,637.5 1216.4,634.2 1229.2,632.3 1241.9,631.6 1260.2,634.2 1273,637.5 1283.9,641.6 1298.5,643.8 1309.4,646.6 1322.2,647.5 1331.3,650.6 1349.6,652.6 1369.6,654.4 1376.9,657.5 1393.3,659.3 1402.4,662.4 1418.9,664.3 1437.1,665.2 1455.3,665.2 1468.1,667.5 1477.2,668.5" fill="none" stroke="#ff0000" stroke-width="1" stroke-dasharray="3,3" shape-rendering="crispEdges"/>
<line x1="1236.5" y1="646.2" x2="1473.6" y2="680.0" stroke="#ff0000" stroke-width="3.5"/>
<polygon points="1483.0,681.3 1471.0,684.2 1472.3,675.1" fill="#ff0000"/>
<g shape-rendering="crispEdges">
<line x1="0" y1="788.5" x2="1656" y2="788.5" stroke="#c0c0c0" stroke-width="1" stroke-dasharray="3,3"/>
<line x1="0" y1="839.5" x2="1656" y2="839.5" stroke="#c0c0c0" stroke-width="1" stroke-dasharray="3,3"/>
<line x1="0" y1="900.5" x2="1656" y2="900.5" stroke="#c0c0c0" stroke-width="1" stroke-dasharray="3,3"/>
</g>
<polyline points="-2,844.6 6,836.3 14,841.1 22,822.2 30,820.3 38,822.2 46,825.2 54,824.3 62,821.4 70,837.2 78,837.2 86,844.3 94,841.4 102,832.3 110,849.4 118,840.2 126,836.3 134,837.2 142,828.4 150,826.1 158,835.4 166,851.3 174,842.3 182,843.4 190,836.3 198,843.4 206,838.1 214,846.9 222,849 230,852.2 238,852.2 246,848.1 254,828.4 262,829.6 270,819.4 278,819.4 286,824 294,826.5 302,838.4 310,829.3 318,827.3 326,833.2 334,827.3 342,835.4 350,833.2 358,823.1 366,826.5 374,819.6 382,816.4 390,824.3 398,845.1 406,846.4 414,851.3 422,849 430,847.2 438,855.5 446,854.3 454,838.1 462,840.6 470,840.6 478,841.4 486,851.3 494,833.2 502,861.3 510,858.3 518,857.3 526,860.5 534,852.5 542,847.2 550,832.3 558,836.3 566,835.4 574,843.4 582,846.4 590,832.3 598,831 606,829.1 614,832.3 622,837.2 630,847.2 638,843.4 646,843.4 654,839.7 662,842.3 670,837.2 678,832.3 686,831.4 694,852.5 702,857.3 710,857.3 718,853.1 726,864.3 734,857.3 742,831.7 750,830.2 758,829.6 766,826.5 774,832.3 782,838.1 790,853.4 798,855.5 806,850.4 814,852 822,855.5 830,856.6 838,848.1 846,851.7 854,850.4 862,849.4 870,846.4 878,873.7 886,856.9 894,853.4 902,853.4 910,852.2 918,837.2 926,837.2 934,841.1 942,873.1 950,874.6 958,871.9 966,876.3 974,881.6 982,886.5 990,883.4 998,875.1 1006,877.2 1014,883.4 1022,883.4 1030,893.6 1038,891.3 1046,892.2 1054,894.5 1062,876.3 1070,860.5 1078,848.1 1086,843.4 1094,845.1 1102,848.1 1110,855.2 1118,850.8 1126,844.6 1134,835.4 1142,835.4 1150,841.4 1158,827 1166,830.5 1174,829.3 1182,835.4 1190,832.3 1198,836.2 1206,836.2 1214,851.3 1222,853.4 1230,842.3 1238,847.2 1246,842.8 1254,849 1262,853.4 1270,852 1278,859.2 1286,850.8 1294,853.4 1302,838.1 1310,849 1318,848.1 1326,853.8 1334,852.5 1342,856.1 1350,858.3 1358,866.3 1366,859.2 1374,856.1 1382,859.2 1390,853.1 1398,860.5 1406,845.5 1414,862.2 1422,852.2 1430,853.4 1438,855.2 1446,855.5 1454,858.3 1462,864.9 1470,870.1 1478,868" fill="none" stroke="#1e90ff" stroke-width="1" shape-rendering="crispEdges"/>
<line x1="1225.5" y1="845.5" x2="1464.0" y2="862.5" stroke="#ff0000" stroke-width="3.5"/>
<polygon points="1473.5,863.2 1461.7,867.0 1462.4,857.8" fill="#ff0000"/>
<g shape-rendering="crispEdges">
<rect x="0" y="25" width="1657" height="1" fill="#000" />
<rect x="0" y="578" width="1657" height="1" fill="#000" />
<rect x="0" y="580" width="1657" height="1" fill="#000" />
<rect x="0" y="750" width="1657" height="1" fill="#000" />
<rect x="0" y="752" width="1657" height="1" fill="#000" />
<rect x="0" y="926" width="1657" height="1" fill="#000" />
<rect x="1656" y="25" width="1" height="902" fill="#000" />
<rect x="62" y="927" width="1" height="3" fill="#000" />
<rect x="126" y="927" width="1" height="3" fill="#000" />
<rect x="190" y="927" width="1" height="3" fill="#000" />
<rect x="254" y="927" width="1" height="3" fill="#000" />
<rect x="318" y="927" width="1" height="3" fill="#000" />
<rect x="382" y="927" width="1" height="3" fill="#000" />
<rect x="446" y="927" width="1" height="3" fill="#000" />
<rect x="510" y="927" width="1" height="3" fill="#000" />
<rect x="574" y="927" width="1" height="3" fill="#000" />
<rect x="638" y="927" width="1" height="3" fill="#000" />
<rect x="702" y="927" width="1" height="3" fill="#000" />
<rect x="766" y="927" width="1" height="3" fill="#000" />
<rect x="830" y="927" width="1" height="3" fill="#000" />
<rect x="894" y="927" width="1" height="3" fill="#000" />
<rect x="958" y="927" width="1" height="3" fill="#000" />
<rect x="1022" y="927" width="1" height="3" fill="#000" />
<rect x="1086" y="927" width="1" height="3" fill="#000" />
<rect x="1150" y="927" width="1" height="3" fill="#000" />
<rect x="1214" y="927" width="1" height="3" fill="#000" />
<rect x="1278" y="927" width="1" height="3" fill="#000" />
<rect x="1342" y="927" width="1" height="3" fill="#000" />
<rect x="1406" y="927" width="1" height="3" fill="#000" />
<rect x="1470" y="927" width="1" height="3" fill="#000" />
<rect x="1657" y="47" width="2" height="1" fill="#000" />
<rect x="1657" y="80" width="2" height="1" fill="#000" />
<rect x="1657" y="113" width="2" height="1" fill="#000" />
<rect x="1657" y="146" width="2" height="1" fill="#000" />
<rect x="1657" y="179" width="2" height="1" fill="#000" />
<rect x="1657" y="212" width="2" height="1" fill="#000" />
<rect x="1657" y="245" width="2" height="1" fill="#000" />
<rect x="1657" y="278" width="2" height="1" fill="#000" />
<rect x="1657" y="311" width="2" height="1" fill="#000" />
<rect x="1657" y="344" width="2" height="1" fill="#000" />
<rect x="1657" y="377" width="2" height="1" fill="#000" />
<rect x="1657" y="410" width="2" height="1" fill="#000" />
<rect x="1657" y="443" width="2" height="1" fill="#000" />
<rect x="1657" y="476" width="2" height="1" fill="#000" />
<rect x="1657" y="509" width="2" height="1" fill="#000" />
<rect x="1657" y="542" width="2" height="1" fill="#000" />
<rect x="1657" y="575" width="2" height="1" fill="#000" />
<rect x="1657" y="582" width="1" height="1" fill="#000" />
<rect x="1657" y="630" width="1" height="1" fill="#000" />
<rect x="1657" y="749" width="1" height="1" fill="#000" />
<rect x="1657" y="754" width="1" height="1" fill="#000" />
</g>
<text class="k" transform="translate(1662.1,50.3)" font-size="9.1" fill="#000" text-anchor="start" font-weight="normal" >1.42810</text>
<text class="k" transform="translate(1662.1,83.3)" font-size="9.1" fill="#000" text-anchor="start" font-weight="normal" >1.42450</text>
<text class="k" transform="translate(1662.1,116.3)" font-size="9.1" fill="#000" text-anchor="start" font-weight="normal" >1.42100</text>
<text class="k" transform="translate(1662.1,149.3)" font-size="9.1" fill="#000" text-anchor="start" font-weight="normal" >1.41740</text>
<text class="k" transform="translate(1662.1,182.3)" font-size="9.1" fill="#000" text-anchor="start" font-weight="normal" >1.41390</text>
<text class="k" transform="translate(1662.1,215.3)" font-size="9.1" fill="#000" text-anchor="start" font-weight="normal" >1.41030</text>
<text class="k" transform="translate(1662.1,248.3)" font-size="9.1" fill="#000" text-anchor="start" font-weight="normal" >1.40670</text>
<text class="k" transform="translate(1662.1,281.3)" font-size="9.1" fill="#000" text-anchor="start" font-weight="normal" >1.40320</text>
<text class="k" transform="translate(1662.1,314.3)" font-size="9.1" fill="#000" text-anchor="start" font-weight="normal" >1.39960</text>
<text class="k" transform="translate(1662.1,347.3)" font-size="9.1" fill="#000" text-anchor="start" font-weight="normal" >1.39610</text>
<text class="k" transform="translate(1662.1,380.3)" font-size="9.1" fill="#000" text-anchor="start" font-weight="normal" >1.39250</text>
<text class="k" transform="translate(1662.1,413.3)" font-size="9.1" fill="#000" text-anchor="start" font-weight="normal" >1.38900</text>
<text class="k" transform="translate(1662.1,446.3)" font-size="9.1" fill="#000" text-anchor="start" font-weight="normal" >1.38540</text>
<text class="k" transform="translate(1662.1,479.3)" font-size="9.1" fill="#000" text-anchor="start" font-weight="normal" >1.38180</text>
<text class="k" transform="translate(1662.1,512.3)" font-size="9.1" fill="#000" text-anchor="start" font-weight="normal" >1.37830</text>
<text class="k" transform="translate(1662.1,545.3)" font-size="9.1" fill="#000" text-anchor="start" font-weight="normal" >1.37470</text>
<text class="k" transform="translate(1662.1,578.3)" font-size="9.1" fill="#000" text-anchor="start" font-weight="normal" >1.37120</text>
<g shape-rendering="crispEdges">
<rect x="1658" y="480" width="41" height="11" fill="#ff4500" />
<rect x="1658" y="495" width="41" height="11" fill="#ff0000" />
<rect x="1658" y="509" width="41" height="11" fill="#32cd32" />
<rect x="1658" y="524" width="41" height="11" fill="#000000" />
<rect x="1658" y="536" width="41" height="11" fill="#0000ff" />
<rect x="1658" y="553" width="41" height="11" fill="#0000ff" />
</g>
<text transform="translate(1661.8,488.5)" font-size="9.1" fill="#fff" text-anchor="start" font-weight="normal" stroke="#fff" stroke-width="0.2">1.38080</text>
<text transform="translate(1661.8,503.5)" font-size="9.1" fill="#fff" text-anchor="start" font-weight="normal" stroke="#fff" stroke-width="0.2">1.37919</text>
<text transform="translate(1661.8,517.5)" font-size="9.1" fill="#fff" text-anchor="start" font-weight="normal" stroke="#fff" stroke-width="0.2">1.37768</text>
<text transform="translate(1661.8,532.5)" font-size="9.1" fill="#fff" text-anchor="start" font-weight="normal" stroke="#fff" stroke-width="0.2">1.37617</text>
<text transform="translate(1661.8,544.5)" font-size="9.1" fill="#fff" text-anchor="start" font-weight="normal" stroke="#fff" stroke-width="0.2">1.37467</text>
<text transform="translate(1661.8,561.5)" font-size="9.1" fill="#fff" text-anchor="start" font-weight="normal" stroke="#fff" stroke-width="0.2">1.37294</text>
<text class="k" transform="translate(1660,590.3)" font-size="9" fill="#000" text-anchor="start" font-weight="normal" >0.00324</text>
<text class="k" transform="translate(1660,634)" font-size="9" fill="#000" text-anchor="start" font-weight="normal" >0.00</text>
<text class="k" transform="translate(1660,747) scale(0.98,1)" font-size="9" fill="#000" text-anchor="start" font-weight="normal" >-0.007879</text>
<text class="k" transform="translate(1660,763)" font-size="9" fill="#000" text-anchor="start" font-weight="normal" >100</text>
<text class="k" transform="translate(1659,792)" font-size="9" fill="#000" text-anchor="start" font-weight="normal" >80</text>
<text class="k" transform="translate(1659,843)" font-size="9" fill="#000" text-anchor="start" font-weight="normal" >50</text>
<text class="k" transform="translate(1659,904)" font-size="9" fill="#000" text-anchor="start" font-weight="normal" >15</text>
<text class="k" transform="translate(1659,923)" font-size="9" fill="#000" text-anchor="start" font-weight="normal" >0</text>
<text class="k" transform="translate(13,36.8)" font-size="9.5" fill="#000" text-anchor="start" font-weight="normal" textLength="204" lengthAdjust="spacingAndGlyphs">GBPUSD-,H4&#160;&#160;1.37567 1.37633 1.37537 1.37617</text>
<polygon points="1,36 8.4,36 4.7,31.8" fill="#000"/>
<text class="k" transform="translate(2.8,592.6)" font-size="9.5" fill="#000" text-anchor="start" font-weight="normal" textLength="153" lengthAdjust="spacingAndGlyphs">MACD(12,26,9) -0.003187 -0.002541</text>
<text class="k" transform="translate(3,764.6)" font-size="9.5" fill="#000" text-anchor="start" font-weight="normal" textLength="67" lengthAdjust="spacingAndGlyphs">RSI(14) 33.2413</text>
<text class="k" transform="translate(-3,939) scale(1.045,1)" font-size="9" fill="#000" text-anchor="start" font-weight="normal" >20 May 2021</text>
<text class="k" transform="translate(61,939) scale(1.045,1)" font-size="9" fill="#000" text-anchor="start" font-weight="normal" >21 May 08:00</text>
<text class="k" transform="translate(125,939) scale(1.045,1)" font-size="9" fill="#000" text-anchor="start" font-weight="normal" >24 May 16:00</text>
<text class="k" transform="translate(189,939) scale(1.045,1)" font-size="9" fill="#000" text-anchor="start" font-weight="normal" >26 May 00:00</text>
<text class="k" transform="translate(253,939) scale(1.045,1)" font-size="9" fill="#000" text-anchor="start" font-weight="normal" >27 May 08:00</text>
<text class="k" transform="translate(317,939) scale(1.045,1)" font-size="9" fill="#000" text-anchor="start" font-weight="normal" >28 May 16:00</text>
<text class="k" transform="translate(381,939) scale(1.045,1)" font-size="9" fill="#000" text-anchor="start" font-weight="normal" >1 Jun 00:00</text>
<text class="k" transform="translate(445,939) scale(1.045,1)" font-size="9" fill="#000" text-anchor="start" font-weight="normal" >2 Jun 08:00</text>
<text class="k" transform="translate(509,939) scale(1.045,1)" font-size="9" fill="#000" text-anchor="start" font-weight="normal" >3 Jun 16:00</text>
<text class="k" transform="translate(573,939) scale(1.045,1)" font-size="9" fill="#000" text-anchor="start" font-weight="normal" >7 Jun 00:00</text>
<text class="k" transform="translate(637,939) scale(1.045,1)" font-size="9" fill="#000" text-anchor="start" font-weight="normal" >8 Jun 08:00</text>
<text class="k" transform="translate(701,939) scale(1.045,1)" font-size="9" fill="#000" text-anchor="start" font-weight="normal" >9 Jun 16:00</text>
<text class="k" transform="translate(765,939) scale(1.045,1)" font-size="9" fill="#000" text-anchor="start" font-weight="normal" >11 Jun 00:00</text>
<text class="k" transform="translate(829,939) scale(1.045,1)" font-size="9" fill="#000" text-anchor="start" font-weight="normal" >14 Jun 08:00</text>
<text class="k" transform="translate(893,939) scale(1.045,1)" font-size="9" fill="#000" text-anchor="start" font-weight="normal" >15 Jun 16:00</text>
<text class="k" transform="translate(957,939) scale(1.045,1)" font-size="9" fill="#000" text-anchor="start" font-weight="normal" >17 Jun 00:00</text>
<text class="k" transform="translate(1021,939) scale(1.045,1)" font-size="9" fill="#000" text-anchor="start" font-weight="normal" >18 Jun 08:00</text>
<text class="k" transform="translate(1085,939) scale(1.045,1)" font-size="9" fill="#000" text-anchor="start" font-weight="normal" >21 Jun 16:00</text>
<text class="k" transform="translate(1149,939) scale(1.045,1)" font-size="9" fill="#000" text-anchor="start" font-weight="normal" >23 Jun 00:00</text>
<text class="k" transform="translate(1213,939) scale(1.045,1)" font-size="9" fill="#000" text-anchor="start" font-weight="normal" >24 Jun 08:00</text>
<text class="k" transform="translate(1277,939) scale(1.045,1)" font-size="9" fill="#000" text-anchor="start" font-weight="normal" >25 Jun 16:00</text>
<text class="k" transform="translate(1341,939) scale(1.045,1)" font-size="9" fill="#000" text-anchor="start" font-weight="normal" >29 Jun 00:00</text>
<text class="k" transform="translate(1405,939) scale(1.045,1)" font-size="9" fill="#000" text-anchor="start" font-weight="normal" >30 Jun 08:00</text>
<text class="k" transform="translate(1469,939) scale(1.045,1)" font-size="9" fill="#000" text-anchor="start" font-weight="normal" >1 Jul 16:00</text>
<polygon points="1467,26 1478,26 1472.5,31.5" fill="#a0a0a0"/>
</svg>

<div style="position:absolute;left:0;top:44px;width:222px;height:59px;background:#fff"></div>
<div class="rb" style="left:1px;top:45px;width:52px;height:25px;background:linear-gradient(#fa5252,#e43a3a)"></div>
<div class="rb" style="left:168px;top:45px;width:52px;height:25px;background:linear-gradient(#fa5252,#e43a3a)"></div>
<div class="rb" style="left:1px;top:69px;width:109px;height:33px;background:linear-gradient(#e03232,#c41414 60%,#b00000)"></div>
<div class="rb" style="left:112px;top:69px;width:108px;height:33px;background:linear-gradient(#e03232,#c41414 60%,#b00000)"></div>
<div style="position:absolute;left:2px;top:46px;width:50px;height:24px;background:linear-gradient(#fa5252,#e23636)"></div>
<div style="position:absolute;left:169px;top:46px;width:50px;height:24px;background:linear-gradient(#fa5252,#e23636)"></div>
<div style="position:absolute;left:5px;top:68px;width:44px;height:1px;background:#8c0000"></div>
<div style="position:absolute;left:5px;top:69px;width:44px;height:1px;background:#f87070"></div>
<div style="position:absolute;left:172px;top:68px;width:44px;height:1px;background:#8c0000"></div>
<div style="position:absolute;left:172px;top:69px;width:44px;height:1px;background:#f87070"></div>
<div class="wt" style="left:1px;top:50px;width:52px;text-align:center;font-size:11.5px;transform:scaleX(0.91)">SELL</div>
<div class="wt" style="left:167px;top:50px;width:52px;text-align:center;font-size:11.5px;transform:scaleX(0.93)">BUY</div>
<div style="position:absolute;left:55px;top:45px;width:111px;height:22px;box-sizing:border-box;border:1px solid #a8acb8;background:#fff"></div>
<div style="position:absolute;left:57px;top:47px;width:19px;height:18px;background:linear-gradient(#f4f4f4 0,#ececec 45%,#d8d8d8 50%,#d0d0d0);"></div>
<div style="position:absolute;left:76px;top:46px;width:1px;height:20px;background:#a8acb8"></div>
<div style="position:absolute;left:145px;top:47px;width:19px;height:18px;background:linear-gradient(#f4f4f4 0,#ececec 45%,#d8d8d8 50%,#d0d0d0);"></div>
<div style="position:absolute;left:144px;top:46px;width:1px;height:20px;background:#a8acb8"></div>
<div style="position:absolute;left:63px;top:54px;width:0;height:0;border-left:3px solid transparent;border-right:3px solid transparent;border-top:3px solid #4864c8"></div>
<div style="position:absolute;left:152px;top:54px;width:0;height:0;border-left:3px solid transparent;border-right:3px solid transparent;border-bottom:3px solid #4864c8"></div>
<div style="position:absolute;left:100px;top:49px;width:41px;text-align:right;font-size:12px;line-height:14px;color:#101828">1.00</div>
<div class="wt" style="left:21.5px;top:86px;font-size:11px;font-weight:bold;transform:scaleX(1.12);transform-origin:0 0">1.37</div>
<div class="wt" style="left:48px;top:66px;font-size:33px;line-height:38px;letter-spacing:-1px">61</div>
<div class="wt" style="left:87px;top:70px;font-size:12px;font-weight:bold">7</div>
<div class="wt" style="left:131.5px;top:86px;font-size:11px;font-weight:bold;transform:scaleX(1.12);transform-origin:0 0">1.37</div>
<div class="wt" style="left:159px;top:66px;font-size:33px;line-height:38px;letter-spacing:-1px">71</div>
<div class="wt" style="left:199px;top:70px;font-size:12px;font-weight:bold">2</div>

</body></html>
